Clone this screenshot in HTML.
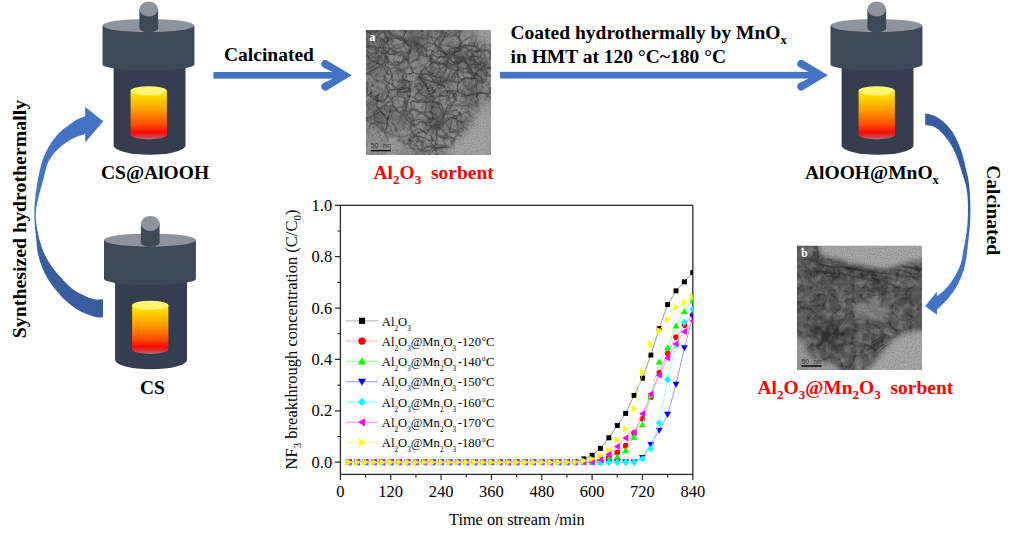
<!DOCTYPE html>
<html><head><meta charset="utf-8"><style>
html,body{margin:0;padding:0;background:#fff;}
svg{display:block;}
text{font-family:"Liberation Serif", serif;}
</style></head><body>
<svg width="1014" height="538" viewBox="0 0 1014 538">
<defs>
<linearGradient id="fire" gradientUnits="userSpaceOnUse" x1="0" y1="88" x2="0" y2="139.6">
<stop offset="0" stop-color="#FFF400"/>
<stop offset="0.12" stop-color="#FFE200"/>
<stop offset="0.45" stop-color="#FF9800"/>
<stop offset="0.72" stop-color="#FF4A00"/>
<stop offset="0.86" stop-color="#F80808"/>
<stop offset="0.93" stop-color="#E03030"/>
<stop offset="1" stop-color="#A87482"/>
</linearGradient>
<g id="reactor">
  <!-- body -->
  <path d="M113.6,64 L185.5,64 L185.5,145.5 A35.95,9.3 0 0 1 113.6,145.5 Z" fill="#343E50"/>
  <!-- inner cylinder -->
  <path d="M130.6,90.8 L166.9,90.8 L166.9,134.5 A18.15,5 0 0 1 130.6,134.5 Z" fill="url(#fire)"/>
  <ellipse cx="148.75" cy="90.8" rx="18.15" ry="4.6" fill="#FFF672"/>
  <!-- lid -->
  <path d="M102.5,25.5 L194.4,25.5 L194.4,64.6 A45.95,5.8 0 0 1 102.5,64.6 Z" fill="#3D4858"/>
  <ellipse cx="148.45" cy="25.5" rx="45.95" ry="6.6" fill="#8E949E"/>
  <!-- knob -->
  <path d="M139.4,9 L158.1,9 L158.1,28.2 A9.35,4 0 0 1 139.4,28.2 Z" fill="#3D4858"/>
  <ellipse cx="148.75" cy="9" rx="9.35" ry="7.4" fill="#8E949E"/>
</g>
</defs>

<use href="#reactor"/>
<use href="#reactor" transform="translate(728,0)"/>
<use href="#reactor" transform="translate(1.5,214.5)"/>
<rect x="213.4" y="71.95" width="121.1" height="6.7" fill="#4472C4"/><path d="M351.80,75.30 L327.07,60.38 A4.0,4.0 0 0 0 323.23,67.39 L332.50,71.95 L332.50,78.65 L323.23,83.21 A4.0,4.0 0 0 0 327.07,90.22 Z" fill="#4472C4"/>
<rect x="500" y="71.85000000000001" width="310.5" height="6.7" fill="#4472C4"/><path d="M827.80,75.20 L803.07,60.28 A4.0,4.0 0 0 0 799.23,67.29 L808.50,71.85 L808.50,78.55 L799.23,83.11 A4.0,4.0 0 0 0 803.07,90.12 Z" fill="#4472C4"/>
<linearGradient id="gL" gradientUnits="userSpaceOnUse" x1="0" y1="200" x2="0" y2="260"><stop offset="0" stop-color="#4472C4"/><stop offset="1" stop-color="#375C9F"/></linearGradient>
<path d="M85.2,107 L103.3,121.3 L85.2,142.6 L85.2,134 C83.68,134.50 79.28,135.57 76.10,137.00 C72.92,138.43 69.10,140.58 66.10,142.60 C63.10,144.62 60.43,146.85 58.10,149.10 C55.77,151.35 53.95,153.43 52.10,156.10 C50.25,158.77 48.43,161.28 47.00,165.10 C45.57,168.92 45.03,173.18 43.50,179.00 C41.97,184.82 39.08,194.23 37.80,200.00 C36.52,205.77 36.02,209.43 35.80,213.60 C35.58,217.77 35.92,220.77 36.50,225.00 C37.08,229.23 38.05,234.35 39.30,239.00 C40.55,243.65 42.05,248.50 44.00,252.90 C45.95,257.30 48.33,261.45 51.00,265.40 C53.67,269.35 57.17,273.35 60.00,276.60 C62.83,279.85 65.00,282.25 68.00,284.90 C71.00,287.55 73.77,290.13 78.00,292.50 C82.23,294.87 89.23,297.97 93.40,299.10 C97.57,300.23 101.40,299.27 103.00,299.30 L103,317.5 C101.40,317.32 97.57,317.65 93.40,316.40 C89.23,315.15 82.65,312.65 78.00,310.00 C73.35,307.35 68.72,303.28 65.50,300.50 C62.28,297.72 61.47,296.60 58.70,293.30 C55.93,290.00 51.70,285.12 48.90,280.70 C46.10,276.28 43.75,271.43 41.90,266.80 C40.05,262.17 38.75,257.53 37.80,252.90 C36.85,248.27 36.70,243.65 36.20,239.00 C35.70,234.35 35.10,229.23 34.80,225.00 C34.50,220.77 34.37,217.77 34.40,213.60 C34.43,209.43 34.40,205.77 35.00,200.00 C35.60,194.23 36.83,185.32 38.00,179.00 C39.17,172.68 40.50,166.92 42.00,162.10 C43.50,157.28 45.15,153.77 47.00,150.10 C48.85,146.43 50.75,143.28 53.10,140.10 C55.45,136.92 58.43,133.52 61.10,131.00 C63.77,128.48 66.45,126.92 69.10,125.00 C71.75,123.08 74.32,120.97 77.00,119.50 C79.68,118.03 83.83,116.75 85.20,116.20 Z" fill="url(#gL)"/>
<linearGradient id="gR" gradientUnits="userSpaceOnUse" x1="0" y1="200" x2="0" y2="250"><stop offset="0" stop-color="#375C9F"/><stop offset="1" stop-color="#4472C4"/></linearGradient>
<path d="M925.2,113.2 C926.82,113.68 931.80,114.62 934.90,116.10 C938.00,117.58 941.08,119.75 943.80,122.10 C946.52,124.45 948.98,127.12 951.20,130.20 C953.42,133.28 955.25,136.63 957.10,140.60 C958.95,144.57 960.82,149.28 962.30,154.00 C963.78,158.72 964.97,164.57 966.00,168.90 C967.03,173.23 967.83,175.67 968.50,180.00 C969.17,184.33 969.68,189.93 970.00,194.90 C970.32,199.87 970.40,204.85 970.40,209.80 C970.40,214.75 970.32,219.65 970.00,224.60 C969.68,229.55 968.95,235.27 968.50,239.50 C968.05,243.73 967.80,246.08 967.30,250.00 C966.80,253.92 966.45,258.67 965.50,263.00 C964.55,267.33 963.33,271.67 961.60,276.00 C959.87,280.33 957.48,285.10 955.10,289.00 C952.72,292.90 950.33,295.93 947.30,299.40 C944.27,302.87 938.63,308.07 936.90,309.80 L936.9,314.8 L925.2,306.2 L936.9,291.4 L936.9,296.2 C937.88,295.43 940.63,293.67 942.80,291.60 C944.97,289.53 947.63,286.83 949.90,283.80 C952.17,280.77 954.55,276.87 956.40,273.40 C958.25,269.93 959.83,266.90 961.00,263.00 C962.17,259.10 962.65,253.92 963.40,250.00 C964.15,246.08 964.83,243.73 965.50,239.50 C966.17,235.27 966.98,229.55 967.40,224.60 C967.82,219.65 968.00,214.75 968.00,209.80 C968.00,204.85 967.82,199.20 967.40,194.90 C966.98,190.60 966.22,187.10 965.50,184.00 C964.78,180.90 964.12,179.57 963.10,176.30 C962.08,173.03 960.88,168.62 959.40,164.40 C957.92,160.18 956.07,154.97 954.20,151.00 C952.33,147.03 950.43,143.82 948.20,140.60 C945.97,137.38 943.27,134.05 940.80,131.70 C938.33,129.35 936.00,127.62 933.40,126.50 C930.80,125.38 926.57,125.25 925.20,125.00 Z" fill="url(#gR)"/>
<text x="101" y="179" font-weight="bold" font-size="19.5">CS@AlOOH</text>
<text x="140" y="394" font-weight="bold" font-size="19.5">CS</text>
<text x="224" y="61.3" font-weight="bold" font-size="19.5">Calcinated</text>
<text x="510.5" y="39.3" font-weight="bold" font-size="19.5">Coated hydrothermally by MnO<tspan font-size="12.5" dy="5">x</tspan></text>
<text x="510.5" y="62.8" font-weight="bold" font-size="19.5">in HMT at 120 °C~180 °C</text>
<text x="805" y="179" font-weight="bold" font-size="19.5">AlOOH@MnO<tspan font-size="12.5" dy="5">x</tspan></text>
<text transform="translate(26.2,338.2) rotate(-90)" font-weight="bold" font-size="19.85">Synthesized hydrothermally</text>
<text transform="translate(987.3,165.2) rotate(90)" font-weight="bold" font-size="19.5">Calcinated</text>
<text x="373.5" y="178.8" font-weight="bold" font-size="19.5" fill="#FF0000">Al<tspan font-size="13" dy="5">2</tspan><tspan dy="-5">O</tspan><tspan font-size="13" dy="5">3</tspan><tspan dy="-5">&#160; sorbent</tspan></text>
<text x="757.5" y="393.9" font-weight="bold" font-size="19.5" fill="#FF0000">Al<tspan font-size="13" dy="5">2</tspan><tspan dy="-5">O</tspan><tspan font-size="13" dy="5">3</tspan><tspan dy="-5">@Mn</tspan><tspan font-size="13" dy="5">2</tspan><tspan dy="-5">O</tspan><tspan font-size="13" dy="5">3</tspan><tspan dy="-5">&#160; sorbent</tspan></text>
<g transform="translate(366,30)"><clipPath id="clipA"><rect width="125" height="125"/></clipPath>
<filter id="tA" x="0" y="0" width="125" height="125" filterUnits="userSpaceOnUse" color-interpolation-filters="sRGB">
  <feTurbulence type="turbulence" baseFrequency="0.045" numOctaves="3" seed="12" result="n"/>
  <feColorMatrix in="n" type="matrix" values="0 0 0 0 0  0 0 0 0 0  0 0 0 0 0  -6 0 0 0 0.9" result="lines"/>
  <feFlood flood-color="#262626"/>
  <feComposite in2="lines" operator="in" result="L1"/>
  <feTurbulence type="fractalNoise" baseFrequency="0.22" numOctaves="2" seed="5" result="n2"/>
  <feColorMatrix in="n2" type="matrix" values="0 0 0 0 0  0 0 0 0 0  0 0 0 0 0  1.3 0 0 0 -0.62" result="lines2"/>
  <feFlood flood-color="#3a3a3a"/>
  <feComposite in2="lines2" operator="in" result="L2"/>
  <feTurbulence type="fractalNoise" baseFrequency="0.05" numOctaves="2" seed="17" result="n3"/>
  <feColorMatrix in="n3" type="matrix" values="0 0 0 0 0  0 0 0 0 0  0 0 0 0 0  1.4 0 0 0 -0.55" result="blob"/>
  <feFlood flood-color="#4a4a4a"/>
  <feComposite in2="blob" operator="in" result="B3"/>
  <feMerge><feMergeNode in="B3"/><feMergeNode in="L2"/><feMergeNode in="L1"/></feMerge>
</filter>
<filter id="gA" x="0" y="0" width="125" height="125" filterUnits="userSpaceOnUse" color-interpolation-filters="sRGB">
  <feTurbulence type="fractalNoise" baseFrequency="0.7" numOctaves="2" seed="21" result="n"/>
  <feColorMatrix in="n" type="matrix" values="0 0 0 0 0  0 0 0 0 0  0 0 0 0 0  0.35 0 0 0 -0.13"/>
</filter>
<filter id="bA" x="-20%" y="-20%" width="140%" height="140%"><feGaussianBlur stdDeviation="4"/></filter>
<filter id="bA2"><feGaussianBlur stdDeviation="0.5"/></filter>
<mask id="mA" maskUnits="userSpaceOnUse" x="0" y="0" width="125" height="125">
  <rect width="125" height="125" fill="#fff"/>
  <g filter="url(#bA)" fill="#000">
    <path d="M130,66 C118,70 110,80 105,90 C99,104 90,112 80,120 L72,130 L130,130 Z"/>
    <path d="M100,-5 L130,-5 L130,18 C118,16 108,8 100,-5 Z"/>
    <path d="M-5,95 C8,96 20,104 30,110 C40,116 50,120 56,130 L-5,130 Z" opacity="0.7"/>
  </g>
</mask><g clip-path="url(#clipA)"><rect width="125" height="125" fill="#a6a6a6"/><rect width="125" height="125" fill="#919191" mask="url(#mA)"/><g mask="url(#mA)"><rect width="125" height="125" filter="url(#tA)"/><g fill="none" stroke="#2e2e2e" stroke-linecap="round" stroke-linejoin="round" filter="url(#bA2)"><path d="M56.2,18.9 L53.8,24.2 L50.9,29.8 L44.3,32.9 L38.2,27.1 L35.1,24.5 L31.4,22.5 L23.5,18.9 L20.8,11.0 L29.8,7.7 L37.8,9.1 L43.2,8.9 L47.3,11.7 L53.9,13.5 L58.9,18.9" stroke="#555" stroke-width="2.6" stroke-opacity="0.25"/><path d="M56.2,18.9 L53.8,24.2 L50.9,29.8 L44.3,32.9 L38.2,27.1 L35.1,24.5 L31.4,22.5 L23.5,18.9 L20.8,11.0 L29.8,7.7 L37.8,9.1 L43.2,8.9 L47.3,11.7 L53.9,13.5 L58.9,18.9" stroke-width="0.62" stroke-opacity="0.51"/><path d="M45.4,18.0 L43.9,21.1 L40.6,22.6 L37.6,23.3 L35.4,21.0 L32.4,22.0 L26.7,21.8 L25.7,18.0 L28.9,15.1 L33.0,14.7 L35.2,14.5 L37.9,11.8 L41.6,12.4 L43.8,15.0 L45.6,18.0" stroke="#555" stroke-width="2.6" stroke-opacity="0.25"/><path d="M45.4,18.0 L43.9,21.1 L40.6,22.6 L37.6,23.3 L35.4,21.0 L32.4,22.0 L26.7,21.8 L25.7,18.0 L28.9,15.1 L33.0,14.7 L35.2,14.5 L37.9,11.8 L41.6,12.4 L43.8,15.0 L45.6,18.0" stroke-width="0.72" stroke-opacity="0.44"/><path d="M86.3,109.4 L84.8,117.1 L73.5,117.6 L68.0,117.9 L63.9,115.7 L55.5,120.0 L43.6,118.3 L45.9,109.4 L51.3,103.6 L57.7,101.1 L62.9,99.5 L69.0,97.1 L75.6,99.0 L79.0,104.0 L87.6,109.4" stroke="#555" stroke-width="2.6" stroke-opacity="0.25"/><path d="M86.3,109.4 L84.8,117.1 L73.5,117.6 L68.0,117.9 L63.9,115.7 L55.5,120.0 L43.6,118.3 L45.9,109.4 L51.3,103.6 L57.7,101.1 L62.9,99.5 L69.0,97.1 L75.6,99.0 L79.0,104.0 L87.6,109.4" stroke-width="1.07" stroke-opacity="0.42"/><path d="M92.5,7.6 L96.1,12.8 L92.3,17.3 L85.9,18.0 L78.8,23.0 L71.9,19.2 L68.3,13.5 L71.3,7.6 L76.2,4.8 L76.0,0.2 L78.7,-8.3 L87.5,-8.8 L95.3,-5.3 L93.4,3.4 L93.0,7.6" stroke="#555" stroke-width="2.6" stroke-opacity="0.25"/><path d="M92.5,7.6 L96.1,12.8 L92.3,17.3 L85.9,18.0 L78.8,23.0 L71.9,19.2 L68.3,13.5 L71.3,7.6 L76.2,4.8 L76.0,0.2 L78.7,-8.3 L87.5,-8.8 L95.3,-5.3 L93.4,3.4 L93.0,7.6" stroke-width="0.87" stroke-opacity="0.52"/><path d="M43.1,51.9 L45.9,56.4 L43.2,60.7 L37.8,63.0 L32.7,59.7 L29.6,57.3 L26.3,55.3 L26.7,51.9 L26.4,48.5 L26.6,43.3 L31.5,39.9 L38.0,40.3 L40.4,46.1 L39.1,50.2 L44.1,51.9" stroke="#555" stroke-width="2.6" stroke-opacity="0.25"/><path d="M43.1,51.9 L45.9,56.4 L43.2,60.7 L37.8,63.0 L32.7,59.7 L29.6,57.3 L26.3,55.3 L26.7,51.9 L26.4,48.5 L26.6,43.3 L31.5,39.9 L38.0,40.3 L40.4,46.1 L39.1,50.2 L44.1,51.9" stroke-width="0.63" stroke-opacity="0.52"/><path d="M111.0,49.0 L111.3,53.7 L107.4,57.1 L102.6,59.7 L98.1,55.1 L97.1,51.8 L90.9,52.6 L86.2,49.0 L85.8,43.5 L91.8,40.8 L97.8,42.1 L101.6,42.3 L106.1,42.4 L108.5,45.5 L111.6,49.0" stroke="#555" stroke-width="2.6" stroke-opacity="0.25"/><path d="M111.0,49.0 L111.3,53.7 L107.4,57.1 L102.6,59.7 L98.1,55.1 L97.1,51.8 L90.9,52.6 L86.2,49.0 L85.8,43.5 L91.8,40.8 L97.8,42.1 L101.6,42.3 L106.1,42.4 L108.5,45.5 L111.6,49.0" stroke-width="0.78" stroke-opacity="0.33"/><path d="M68.9,60.5 L65.3,63.3 L62.3,64.7 L60.0,66.9 L57.0,65.2 L54.8,64.1 L52.7,62.7 L52.3,60.5 L49.0,56.8 L51.7,53.6 L56.7,55.0 L59.4,56.4 L60.7,57.9 L64.5,58.0 L68.0,60.5" stroke="#555" stroke-width="2.6" stroke-opacity="0.25"/><path d="M68.9,60.5 L65.3,63.3 L62.3,64.7 L60.0,66.9 L57.0,65.2 L54.8,64.1 L52.7,62.7 L52.3,60.5 L49.0,56.8 L51.7,53.6 L56.7,55.0 L59.4,56.4 L60.7,57.9 L64.5,58.0 L68.0,60.5" stroke-width="0.99" stroke-opacity="0.43"/><path d="M103.5,41.2 L107.4,45.2 L104.5,48.6 L99.5,49.0 L95.1,49.6 L92.3,46.5 L90.8,43.9 L90.9,41.2 L92.5,39.3 L91.4,35.0 L94.4,30.2 L100.1,31.4 L102.7,35.6 L102.6,39.1 L103.8,41.2" stroke="#555" stroke-width="2.6" stroke-opacity="0.25"/><path d="M103.5,41.2 L107.4,45.2 L104.5,48.6 L99.5,49.0 L95.1,49.6 L92.3,46.5 L90.8,43.9 L90.9,41.2 L92.5,39.3 L91.4,35.0 L94.4,30.2 L100.1,31.4 L102.7,35.6 L102.6,39.1 L103.8,41.2" stroke-width="1.08" stroke-opacity="0.39"/><path d="M37.6,28.4 L36.8,32.0 L33.1,34.2 L29.5,35.3 L26.2,33.5 L24.2,31.8 L18.8,31.9 L14.4,28.4 L17.1,24.2 L22.1,22.6 L26.5,24.5 L28.8,23.8 L33.4,22.3 L37.2,24.5 L37.8,28.4" stroke="#555" stroke-width="2.6" stroke-opacity="0.25"/><path d="M37.6,28.4 L36.8,32.0 L33.1,34.2 L29.5,35.3 L26.2,33.5 L24.2,31.8 L18.8,31.9 L14.4,28.4 L17.1,24.2 L22.1,22.6 L26.5,24.5 L28.8,23.8 L33.4,22.3 L37.2,24.5 L37.8,28.4" stroke-width="0.80" stroke-opacity="0.40"/><path d="M27.7,15.9 L29.9,19.4 L28.3,23.2 L23.7,24.9 L19.7,21.4 L18.5,18.8 L15.5,18.2 L13.1,15.9 L13.4,12.7 L15.4,9.7 L19.1,8.1 L23.4,7.9 L26.4,10.5 L25.4,14.2 L26.7,15.9" stroke="#555" stroke-width="2.6" stroke-opacity="0.25"/><path d="M27.7,15.9 L29.9,19.4 L28.3,23.2 L23.7,24.9 L19.7,21.4 L18.5,18.8 L15.5,18.2 L13.1,15.9 L13.4,12.7 L15.4,9.7 L19.1,8.1 L23.4,7.9 L26.4,10.5 L25.4,14.2 L26.7,15.9" stroke-width="0.73" stroke-opacity="0.37"/><path d="M41.3,73.3 L39.6,77.1 L33.6,76.9 L31.4,78.2 L27.9,81.2 L21.9,81.8 L18.0,78.1 L19.9,73.3 L24.6,71.1 L25.6,68.7 L28.1,66.2 L31.8,66.8 L36.2,66.9 L40.5,69.1 L41.0,73.3" stroke="#555" stroke-width="2.6" stroke-opacity="0.25"/><path d="M41.3,73.3 L39.6,77.1 L33.6,76.9 L31.4,78.2 L27.9,81.2 L21.9,81.8 L18.0,78.1 L19.9,73.3 L24.6,71.1 L25.6,68.7 L28.1,66.2 L31.8,66.8 L36.2,66.9 L40.5,69.1 L41.0,73.3" stroke-width="0.84" stroke-opacity="0.48"/><path d="M79.8,40.7 L77.5,43.9 L75.9,47.3 L73.0,53.2 L66.5,51.8 L60.7,50.0 L53.5,47.2 L55.5,40.7 L61.6,37.6 L64.1,35.0 L67.3,32.4 L73.5,26.4 L81.9,27.9 L80.8,36.2 L79.7,40.7" stroke="#555" stroke-width="2.6" stroke-opacity="0.25"/><path d="M79.8,40.7 L77.5,43.9 L75.9,47.3 L73.0,53.2 L66.5,51.8 L60.7,50.0 L53.5,47.2 L55.5,40.7 L61.6,37.6 L64.1,35.0 L67.3,32.4 L73.5,26.4 L81.9,27.9 L80.8,36.2 L79.7,40.7" stroke-width="0.84" stroke-opacity="0.54"/><path d="M127.7,32.4 L132.3,38.3 L128.7,43.9 L121.6,46.4 L115.8,39.8 L112.4,38.0 L105.7,37.3 L103.7,32.4 L105.5,27.5 L107.4,21.6 L114.4,20.1 L121.1,20.4 L125.9,24.0 L124.8,29.6 L128.0,32.4" stroke="#555" stroke-width="2.6" stroke-opacity="0.25"/><path d="M127.7,32.4 L132.3,38.3 L128.7,43.9 L121.6,46.4 L115.8,39.8 L112.4,38.0 L105.7,37.3 L103.7,32.4 L105.5,27.5 L107.4,21.6 L114.4,20.1 L121.1,20.4 L125.9,24.0 L124.8,29.6 L128.0,32.4" stroke-width="1.08" stroke-opacity="0.40"/><path d="M82.8,123.7 L76.3,129.9 L71.7,135.0 L64.4,136.3 L58.1,134.0 L51.5,133.6 L49.2,128.4 L42.3,123.7 L38.5,114.7 L48.6,110.9 L57.8,112.5 L62.7,117.2 L69.3,114.9 L81.6,115.4 L84.9,123.7" stroke="#555" stroke-width="2.6" stroke-opacity="0.25"/><path d="M82.8,123.7 L76.3,129.9 L71.7,135.0 L64.4,136.3 L58.1,134.0 L51.5,133.6 L49.2,128.4 L42.3,123.7 L38.5,114.7 L48.6,110.9 L57.8,112.5 L62.7,117.2 L69.3,114.9 L81.6,115.4 L84.9,123.7" stroke-width="0.65" stroke-opacity="0.37"/><path d="M17.5,97.4 L15.4,101.6 L10.1,102.8 L7.2,105.4 L2.8,105.1 L0.8,101.8 L-1.5,100.0 L-5.6,97.4 L-6.9,92.6 L-3.1,88.9 L3.4,91.6 L6.1,93.2 L10.1,92.0 L15.1,93.3 L16.1,97.4" stroke="#555" stroke-width="2.6" stroke-opacity="0.25"/><path d="M17.5,97.4 L15.4,101.6 L10.1,102.8 L7.2,105.4 L2.8,105.1 L0.8,101.8 L-1.5,100.0 L-5.6,97.4 L-6.9,92.6 L-3.1,88.9 L3.4,91.6 L6.1,93.2 L10.1,92.0 L15.1,93.3 L16.1,97.4" stroke-width="1.03" stroke-opacity="0.32"/><path d="M116.7,56.7 L115.3,59.7 L113.2,62.3 L109.9,64.3 L105.8,64.2 L99.8,65.2 L95.3,61.8 L99.0,56.7 L102.1,54.4 L103.5,52.2 L105.7,48.9 L111.3,44.1 L115.7,48.5 L116.4,53.3 L116.5,56.7" stroke="#555" stroke-width="2.6" stroke-opacity="0.25"/><path d="M116.7,56.7 L115.3,59.7 L113.2,62.3 L109.9,64.3 L105.8,64.2 L99.8,65.2 L95.3,61.8 L99.0,56.7 L102.1,54.4 L103.5,52.2 L105.7,48.9 L111.3,44.1 L115.7,48.5 L116.4,53.3 L116.5,56.7" stroke-width="0.73" stroke-opacity="0.30"/><path d="M101.0,68.9 L98.9,71.8 L95.6,73.0 L93.3,75.1 L90.0,74.9 L85.2,75.7 L79.6,73.7 L81.8,68.9 L87.0,67.0 L87.8,64.9 L90.0,62.9 L94.1,59.8 L98.6,61.6 L98.9,65.9 L99.7,68.9" stroke="#555" stroke-width="2.6" stroke-opacity="0.25"/><path d="M101.0,68.9 L98.9,71.8 L95.6,73.0 L93.3,75.1 L90.0,74.9 L85.2,75.7 L79.6,73.7 L81.8,68.9 L87.0,67.0 L87.8,64.9 L90.0,62.9 L94.1,59.8 L98.6,61.6 L98.9,65.9 L99.7,68.9" stroke-width="0.66" stroke-opacity="0.32"/><path d="M100.5,31.9 L103.0,36.1 L99.2,38.8 L94.3,38.0 L91.4,36.4 L90.2,34.4 L85.1,35.0 L81.8,31.9 L83.6,28.3 L86.6,25.7 L90.8,25.3 L94.0,26.8 L97.6,26.7 L97.9,29.8 L99.9,31.9" stroke="#555" stroke-width="2.6" stroke-opacity="0.25"/><path d="M100.5,31.9 L103.0,36.1 L99.2,38.8 L94.3,38.0 L91.4,36.4 L90.2,34.4 L85.1,35.0 L81.8,31.9 L83.6,28.3 L86.6,25.7 L90.8,25.3 L94.0,26.8 L97.6,26.7 L97.9,29.8 L99.9,31.9" stroke-width="0.60" stroke-opacity="0.40"/><path d="M68.1,62.8 L65.9,65.5 L63.0,66.7 L60.7,67.9 L57.7,68.9 L52.0,70.5 L47.8,67.5 L51.6,62.8 L53.9,60.6 L55.7,59.0 L57.4,56.0 L62.1,52.7 L65.6,56.3 L66.9,59.8 L69.7,62.8" stroke="#555" stroke-width="2.6" stroke-opacity="0.25"/><path d="M68.1,62.8 L65.9,65.5 L63.0,66.7 L60.7,67.9 L57.7,68.9 L52.0,70.5 L47.8,67.5 L51.6,62.8 L53.9,60.6 L55.7,59.0 L57.4,56.0 L62.1,52.7 L65.6,56.3 L66.9,59.8 L69.7,62.8" stroke-width="0.67" stroke-opacity="0.48"/><path d="M91.4,5.5 L94.1,11.0 L94.9,20.6 L85.5,24.2 L75.7,22.6 L73.0,13.2 L71.2,9.2 L62.4,5.5 L61.4,-2.2 L67.5,-8.0 L75.8,-11.5 L83.9,-7.1 L90.0,-4.6 L92.5,0.6 L89.8,5.5" stroke="#555" stroke-width="2.6" stroke-opacity="0.25"/><path d="M91.4,5.5 L94.1,11.0 L94.9,20.6 L85.5,24.2 L75.7,22.6 L73.0,13.2 L71.2,9.2 L62.4,5.5 L61.4,-2.2 L67.5,-8.0 L75.8,-11.5 L83.9,-7.1 L90.0,-4.6 L92.5,0.6 L89.8,5.5" stroke-width="0.65" stroke-opacity="0.51"/><path d="M81.3,78.5 L78.6,82.0 L76.5,85.4 L74.2,94.4 L65.0,96.1 L61.5,87.2 L58.5,83.0 L60.3,78.5 L60.3,74.6 L60.2,68.5 L66.5,66.2 L73.2,66.3 L82.2,65.5 L84.3,72.7 L80.4,78.5" stroke="#555" stroke-width="2.6" stroke-opacity="0.25"/><path d="M81.3,78.5 L78.6,82.0 L76.5,85.4 L74.2,94.4 L65.0,96.1 L61.5,87.2 L58.5,83.0 L60.3,78.5 L60.3,74.6 L60.2,68.5 L66.5,66.2 L73.2,66.3 L82.2,65.5 L84.3,72.7 L80.4,78.5" stroke-width="0.79" stroke-opacity="0.42"/><path d="M97.9,95.9 L97.3,100.6 L92.0,102.8 L88.8,108.1 L82.1,108.2 L74.4,107.4 L70.3,101.9 L76.5,95.9 L78.1,92.9 L76.8,86.8 L81.8,82.5 L89.9,79.6 L95.4,85.5 L95.2,92.0 L97.5,95.9" stroke="#555" stroke-width="2.6" stroke-opacity="0.25"/><path d="M97.9,95.9 L97.3,100.6 L92.0,102.8 L88.8,108.1 L82.1,108.2 L74.4,107.4 L70.3,101.9 L76.5,95.9 L78.1,92.9 L76.8,86.8 L81.8,82.5 L89.9,79.6 L95.4,85.5 L95.2,92.0 L97.5,95.9" stroke-width="1.05" stroke-opacity="0.35"/><path d="M19.6,57.4 L18.2,63.8 L13.8,69.5 L7.4,76.2 L-1.3,70.1 L-5.6,65.5 L-8.4,61.6 L-9.8,57.4 L-20.3,48.4 L-12.9,41.6 L-1.8,42.7 L5.5,45.2 L9.1,50.1 L16.4,51.7 L20.6,57.4" stroke="#555" stroke-width="2.6" stroke-opacity="0.25"/><path d="M19.6,57.4 L18.2,63.8 L13.8,69.5 L7.4,76.2 L-1.3,70.1 L-5.6,65.5 L-8.4,61.6 L-9.8,57.4 L-20.3,48.4 L-12.9,41.6 L-1.8,42.7 L5.5,45.2 L9.1,50.1 L16.4,51.7 L20.6,57.4" stroke-width="0.61" stroke-opacity="0.30"/><path d="M76.9,56.3 L70.8,60.1 L67.8,63.0 L63.7,64.4 L59.9,62.1 L55.2,62.8 L53.1,59.7 L50.8,56.3 L48.8,51.3 L53.6,48.1 L59.7,49.8 L63.1,50.4 L65.4,52.2 L71.1,52.5 L76.0,56.3" stroke="#555" stroke-width="2.6" stroke-opacity="0.25"/><path d="M76.9,56.3 L70.8,60.1 L67.8,63.0 L63.7,64.4 L59.9,62.1 L55.2,62.8 L53.1,59.7 L50.8,56.3 L48.8,51.3 L53.6,48.1 L59.7,49.8 L63.1,50.4 L65.4,52.2 L71.1,52.5 L76.0,56.3" stroke-width="0.74" stroke-opacity="0.31"/><path d="M24.1,104.3 L22.0,108.0 L19.4,111.3 L15.5,114.6 L10.4,112.9 L6.5,110.8 L6.1,107.0 L6.0,104.3 L1.6,99.9 L3.7,94.9 L9.9,94.0 L14.6,97.3 L16.4,100.5 L18.7,101.9 L24.5,104.3" stroke="#555" stroke-width="2.6" stroke-opacity="0.25"/><path d="M24.1,104.3 L22.0,108.0 L19.4,111.3 L15.5,114.6 L10.4,112.9 L6.5,110.8 L6.1,107.0 L6.0,104.3 L1.6,99.9 L3.7,94.9 L9.9,94.0 L14.6,97.3 L16.4,100.5 L18.7,101.9 L24.5,104.3" stroke-width="0.92" stroke-opacity="0.37"/><path d="M16.5,115.8 L11.3,117.9 L8.4,118.3 L7.7,121.5 L4.2,122.8 L-0.7,123.0 L-1.8,119.0 L0.4,115.8 L0.0,113.4 L2.2,111.8 L4.7,110.6 L7.8,109.6 L11.3,110.5 L16.1,111.9 L16.9,115.8" stroke="#555" stroke-width="2.6" stroke-opacity="0.25"/><path d="M16.5,115.8 L11.3,117.9 L8.4,118.3 L7.7,121.5 L4.2,122.8 L-0.7,123.0 L-1.8,119.0 L0.4,115.8 L0.0,113.4 L2.2,111.8 L4.7,110.6 L7.8,109.6 L11.3,110.5 L16.1,111.9 L16.9,115.8" stroke-width="0.82" stroke-opacity="0.33"/><path d="M39.4,11.3 L36.9,16.5 L31.2,18.8 L26.2,19.1 L22.3,17.6 L18.0,17.6 L15.4,14.8 L15.1,11.3 L12.4,6.7 L15.3,2.2 L21.5,2.0 L25.6,5.7 L27.5,7.7 L32.6,7.9 L40.0,11.3" stroke="#555" stroke-width="2.6" stroke-opacity="0.25"/><path d="M39.4,11.3 L36.9,16.5 L31.2,18.8 L26.2,19.1 L22.3,17.6 L18.0,17.6 L15.4,14.8 L15.1,11.3 L12.4,6.7 L15.3,2.2 L21.5,2.0 L25.6,5.7 L27.5,7.7 L32.6,7.9 L40.0,11.3" stroke-width="0.71" stroke-opacity="0.37"/><path d="M38.2,50.0 L44.4,55.3 L41.9,61.3 L34.4,62.1 L28.8,58.4 L26.7,54.5 L22.9,53.3 L17.9,50.0 L19.4,45.3 L21.9,40.4 L27.6,37.4 L34.0,39.1 L37.4,43.3 L36.4,47.8 L38.5,50.0" stroke="#555" stroke-width="2.6" stroke-opacity="0.25"/><path d="M38.2,50.0 L44.4,55.3 L41.9,61.3 L34.4,62.1 L28.8,58.4 L26.7,54.5 L22.9,53.3 L17.9,50.0 L19.4,45.3 L21.9,40.4 L27.6,37.4 L34.0,39.1 L37.4,43.3 L36.4,47.8 L38.5,50.0" stroke-width="0.86" stroke-opacity="0.47"/><path d="M90.5,95.6 L92.4,100.2 L87.0,102.0 L82.7,102.2 L77.9,106.6 L71.0,106.0 L66.8,101.3 L68.9,95.6 L76.8,93.9 L76.3,90.7 L77.7,83.8 L84.2,83.5 L89.9,86.2 L91.7,91.3 L91.4,95.6" stroke="#555" stroke-width="2.6" stroke-opacity="0.25"/><path d="M90.5,95.6 L92.4,100.2 L87.0,102.0 L82.7,102.2 L77.9,106.6 L71.0,106.0 L66.8,101.3 L68.9,95.6 L76.8,93.9 L76.3,90.7 L77.7,83.8 L84.2,83.5 L89.9,86.2 L91.7,91.3 L91.4,95.6" stroke-width="0.61" stroke-opacity="0.38"/><path d="M70.3,119.9 L69.6,124.7 L68.2,130.9 L62.3,137.0 L54.2,132.4 L50.5,127.3 L49.4,123.1 L48.1,119.9 L41.6,113.5 L44.7,106.4 L53.9,106.3 L60.7,108.6 L64.6,112.6 L67.8,115.8 L70.8,119.9" stroke="#555" stroke-width="2.6" stroke-opacity="0.25"/><path d="M70.3,119.9 L69.6,124.7 L68.2,130.9 L62.3,137.0 L54.2,132.4 L50.5,127.3 L49.4,123.1 L48.1,119.9 L41.6,113.5 L44.7,106.4 L53.9,106.3 L60.7,108.6 L64.6,112.6 L67.8,115.8 L70.8,119.9" stroke-width="0.94" stroke-opacity="0.35"/><path d="M117.5,92.4 L114.1,98.2 L108.2,101.3 L101.8,100.4 L98.5,96.5 L91.4,101.0 L84.6,98.4 L84.8,92.4 L86.9,87.3 L92.7,85.2 L97.2,83.6 L102.6,81.6 L105.0,86.8 L109.7,88.3 L116.0,92.4" stroke="#555" stroke-width="2.6" stroke-opacity="0.25"/><path d="M117.5,92.4 L114.1,98.2 L108.2,101.3 L101.8,100.4 L98.5,96.5 L91.4,101.0 L84.6,98.4 L84.8,92.4 L86.9,87.3 L92.7,85.2 L97.2,83.6 L102.6,81.6 L105.0,86.8 L109.7,88.3 L116.0,92.4" stroke-width="1.09" stroke-opacity="0.34"/><path d="M14.3,7.5 L19.8,12.9 L16.5,18.0 L9.2,17.3 L3.9,17.1 L0.9,13.3 L-0.5,10.3 L-5.5,7.5 L-2.5,3.9 L-0.8,-0.1 L3.1,-4.8 L9.2,-2.4 L11.8,1.9 L12.2,5.2 L12.9,7.5" stroke="#555" stroke-width="2.6" stroke-opacity="0.25"/><path d="M14.3,7.5 L19.8,12.9 L16.5,18.0 L9.2,17.3 L3.9,17.1 L0.9,13.3 L-0.5,10.3 L-5.5,7.5 L-2.5,3.9 L-0.8,-0.1 L3.1,-4.8 L9.2,-2.4 L11.8,1.9 L12.2,5.2 L12.9,7.5" stroke-width="1.08" stroke-opacity="0.33"/><path d="M126.1,25.9 L128.9,29.3 L130.0,35.8 L123.9,38.3 L118.4,33.6 L114.6,32.2 L112.1,29.3 L112.4,25.9 L111.2,22.2 L113.9,19.0 L117.4,14.5 L123.7,14.3 L126.2,20.0 L126.1,23.7 L128.0,25.9" stroke="#555" stroke-width="2.6" stroke-opacity="0.25"/><path d="M126.1,25.9 L128.9,29.3 L130.0,35.8 L123.9,38.3 L118.4,33.6 L114.6,32.2 L112.1,29.3 L112.4,25.9 L111.2,22.2 L113.9,19.0 L117.4,14.5 L123.7,14.3 L126.2,20.0 L126.1,23.7 L128.0,25.9" stroke-width="0.73" stroke-opacity="0.49"/><path d="M121.4,42.4 L120.2,45.6 L120.0,50.5 L115.2,53.0 L110.3,49.7 L108.2,46.6 L106.2,44.8 L102.4,42.4 L101.0,37.9 L105.1,34.8 L110.3,35.2 L114.7,33.8 L118.1,36.4 L118.8,39.8 L120.5,42.4" stroke="#555" stroke-width="2.6" stroke-opacity="0.25"/><path d="M121.4,42.4 L120.2,45.6 L120.0,50.5 L115.2,53.0 L110.3,49.7 L108.2,46.6 L106.2,44.8 L102.4,42.4 L101.0,37.9 L105.1,34.8 L110.3,35.2 L114.7,33.8 L118.1,36.4 L118.8,39.8 L120.5,42.4" stroke-width="0.81" stroke-opacity="0.42"/><path d="M123.7,22.9 L129.1,28.1 L128.4,35.8 L120.4,38.9 L111.3,40.0 L107.1,32.1 L103.6,27.9 L99.2,22.9 L106.6,19.1 L108.1,14.5 L111.5,6.5 L121.0,4.6 L128.4,9.9 L128.9,17.7 L124.6,22.9" stroke="#555" stroke-width="2.6" stroke-opacity="0.25"/><path d="M123.7,22.9 L129.1,28.1 L128.4,35.8 L120.4,38.9 L111.3,40.0 L107.1,32.1 L103.6,27.9 L99.2,22.9 L106.6,19.1 L108.1,14.5 L111.5,6.5 L121.0,4.6 L128.4,9.9 L128.9,17.7 L124.6,22.9" stroke-width="1.09" stroke-opacity="0.37"/><path d="M21.2,12.1 L17.1,14.7 L17.3,19.2 L14.6,27.1 L6.5,26.9 L1.4,21.6 L2.7,15.2 L2.7,12.1 L0.0,7.8 L1.4,2.5 L7.7,1.7 L14.0,-0.8 L19.0,3.1 L21.1,7.8 L20.8,12.1" stroke="#555" stroke-width="2.6" stroke-opacity="0.25"/><path d="M21.2,12.1 L17.1,14.7 L17.3,19.2 L14.6,27.1 L6.5,26.9 L1.4,21.6 L2.7,15.2 L2.7,12.1 L0.0,7.8 L1.4,2.5 L7.7,1.7 L14.0,-0.8 L19.0,3.1 L21.1,7.8 L20.8,12.1" stroke-width="0.68" stroke-opacity="0.52"/><path d="M85.1,40.8 L82.7,45.0 L81.3,50.2 L75.5,52.7 L70.0,49.3 L67.4,45.9 L65.0,43.7 L61.3,40.8 L58.5,35.3 L62.8,30.9 L70.2,33.2 L74.2,33.8 L78.4,34.4 L81.1,37.2 L85.3,40.8" stroke="#555" stroke-width="2.6" stroke-opacity="0.25"/><path d="M85.1,40.8 L82.7,45.0 L81.3,50.2 L75.5,52.7 L70.0,49.3 L67.4,45.9 L65.0,43.7 L61.3,40.8 L58.5,35.3 L62.8,30.9 L70.2,33.2 L74.2,33.8 L78.4,34.4 L81.1,37.2 L85.3,40.8" stroke-width="0.79" stroke-opacity="0.52"/><path d="M72.0,32.5 L74.2,39.8 L69.6,46.5 L59.3,44.1 L52.9,44.2 L46.7,42.3 L45.2,36.9 L41.9,32.5 L42.0,26.8 L44.5,20.4 L50.9,13.4 L59.9,18.9 L60.8,27.7 L65.9,28.6 L70.7,32.5" stroke="#555" stroke-width="2.6" stroke-opacity="0.25"/><path d="M72.0,32.5 L74.2,39.8 L69.6,46.5 L59.3,44.1 L52.9,44.2 L46.7,42.3 L45.2,36.9 L41.9,32.5 L42.0,26.8 L44.5,20.4 L50.9,13.4 L59.9,18.9 L60.8,27.7 L65.9,28.6 L70.7,32.5" stroke-width="1.00" stroke-opacity="0.44"/><path d="M16.4,12.7 L14.4,15.3 L12.8,17.8 L10.8,23.4 L5.0,23.3 L-0.1,21.0 L-3.7,17.3 L-3.4,12.7 L-0.2,9.4 L2.7,7.2 L6.0,5.7 L11.2,0.7 L18.5,1.6 L18.9,8.3 L17.7,12.7" stroke="#555" stroke-width="2.6" stroke-opacity="0.25"/><path d="M16.4,12.7 L14.4,15.3 L12.8,17.8 L10.8,23.4 L5.0,23.3 L-0.1,21.0 L-3.7,17.3 L-3.4,12.7 L-0.2,9.4 L2.7,7.2 L6.0,5.7 L11.2,0.7 L18.5,1.6 L18.9,8.3 L17.7,12.7" stroke-width="0.70" stroke-opacity="0.30"/><path d="M129.6,53.0 L125.2,58.0 L123.1,63.8 L115.4,62.8 L109.7,63.9 L100.4,65.8 L91.2,61.6 L91.9,53.0 L99.1,47.5 L108.6,48.7 L109.9,42.8 L117.2,36.5 L125.7,39.3 L129.8,46.1 L130.7,53.0" stroke="#555" stroke-width="2.6" stroke-opacity="0.25"/><path d="M129.6,53.0 L125.2,58.0 L123.1,63.8 L115.4,62.8 L109.7,63.9 L100.4,65.8 L91.2,61.6 L91.9,53.0 L99.1,47.5 L108.6,48.7 L109.9,42.8 L117.2,36.5 L125.7,39.3 L129.8,46.1 L130.7,53.0" stroke-width="1.00" stroke-opacity="0.54"/><path d="M44.8,15.8 L42.3,22.9 L38.3,30.1 L30.4,36.7 L20.0,32.9 L18.8,21.9 L12.8,20.6 L9.1,15.8 L3.1,7.2 L6.7,-3.0 L20.4,0.3 L27.5,5.5 L34.0,6.1 L38.0,10.5 L43.3,15.8" stroke="#555" stroke-width="2.6" stroke-opacity="0.25"/><path d="M44.8,15.8 L42.3,22.9 L38.3,30.1 L30.4,36.7 L20.0,32.9 L18.8,21.9 L12.8,20.6 L9.1,15.8 L3.1,7.2 L6.7,-3.0 L20.4,0.3 L27.5,5.5 L34.0,6.1 L38.0,10.5 L43.3,15.8" stroke-width="0.79" stroke-opacity="0.33"/><path d="M45.4,90.6 L50.7,98.5 L44.2,104.5 L35.5,107.4 L26.9,105.0 L24.6,97.2 L21.6,94.3 L9.0,90.6 L8.3,81.6 L17.0,76.2 L26.9,76.1 L33.3,81.7 L40.3,80.7 L45.9,84.6 L47.5,90.6" stroke="#555" stroke-width="2.6" stroke-opacity="0.25"/><path d="M45.4,90.6 L50.7,98.5 L44.2,104.5 L35.5,107.4 L26.9,105.0 L24.6,97.2 L21.6,94.3 L9.0,90.6 L8.3,81.6 L17.0,76.2 L26.9,76.1 L33.3,81.7 L40.3,80.7 L45.9,84.6 L47.5,90.6" stroke-width="0.84" stroke-opacity="0.36"/><path d="M111.0,97.5 L107.5,102.3 L101.4,103.7 L98.2,107.4 L93.2,105.7 L90.9,102.3 L84.4,101.9 L82.3,97.5 L79.6,91.1 L85.6,87.2 L93.8,91.6 L96.7,92.8 L102.4,90.2 L107.6,92.6 L113.0,97.5" stroke="#555" stroke-width="2.6" stroke-opacity="0.25"/><path d="M111.0,97.5 L107.5,102.3 L101.4,103.7 L98.2,107.4 L93.2,105.7 L90.9,102.3 L84.4,101.9 L82.3,97.5 L79.6,91.1 L85.6,87.2 L93.8,91.6 L96.7,92.8 L102.4,90.2 L107.6,92.6 L113.0,97.5" stroke-width="0.67" stroke-opacity="0.51"/><path d="M118.0,24.2 L120.5,31.7 L111.8,34.6 L104.6,34.3 L97.6,39.7 L86.8,40.0 L78.1,33.8 L79.2,24.2 L93.8,21.0 L93.3,15.3 L98.1,10.4 L106.9,5.7 L118.9,6.5 L118.4,17.6 L118.3,24.2" stroke="#555" stroke-width="2.6" stroke-opacity="0.25"/><path d="M118.0,24.2 L120.5,31.7 L111.8,34.6 L104.6,34.3 L97.6,39.7 L86.8,40.0 L78.1,33.8 L79.2,24.2 L93.8,21.0 L93.3,15.3 L98.1,10.4 L106.9,5.7 L118.9,6.5 L118.4,17.6 L118.3,24.2" stroke-width="0.85" stroke-opacity="0.38"/><path d="M9.4,22.8 L13.3,26.3 L11.0,29.5 L7.1,31.8 L2.7,29.8 L2.3,25.2 L-1.0,25.0 L-4.5,22.8 L-4.0,19.3 L-2.1,15.8 L2.8,16.1 L6.5,15.9 L9.9,17.2 L9.8,20.7 L10.4,22.8" stroke="#555" stroke-width="2.6" stroke-opacity="0.25"/><path d="M9.4,22.8 L13.3,26.3 L11.0,29.5 L7.1,31.8 L2.7,29.8 L2.3,25.2 L-1.0,25.0 L-4.5,22.8 L-4.0,19.3 L-2.1,15.8 L2.8,16.1 L6.5,15.9 L9.9,17.2 L9.8,20.7 L10.4,22.8" stroke-width="0.73" stroke-opacity="0.55"/><path d="M89.5,45.0 L87.9,51.3 L77.9,51.0 L74.2,52.3 L67.7,61.4 L57.8,60.0 L53.4,52.6 L55.9,45.0 L63.8,41.7 L65.2,37.8 L68.7,32.4 L75.5,33.0 L82.9,33.8 L91.2,37.4 L92.2,45.0" stroke="#555" stroke-width="2.6" stroke-opacity="0.25"/><path d="M89.5,45.0 L87.9,51.3 L77.9,51.0 L74.2,52.3 L67.7,61.4 L57.8,60.0 L53.4,52.6 L55.9,45.0 L63.8,41.7 L65.2,37.8 L68.7,32.4 L75.5,33.0 L82.9,33.8 L91.2,37.4 L92.2,45.0" stroke-width="0.67" stroke-opacity="0.36"/><path d="M89.9,2.8 L87.5,5.2 L84.6,5.9 L82.3,5.3 L80.6,6.5 L76.5,8.1 L74.4,5.7 L74.8,2.8 L76.8,0.8 L79.0,0.1 L80.6,-1.0 L83.0,-2.3 L85.3,-1.0 L88.4,0.1 L90.1,2.8" stroke="#555" stroke-width="2.6" stroke-opacity="0.25"/><path d="M89.9,2.8 L87.5,5.2 L84.6,5.9 L82.3,5.3 L80.6,6.5 L76.5,8.1 L74.4,5.7 L74.8,2.8 L76.8,0.8 L79.0,0.1 L80.6,-1.0 L83.0,-2.3 L85.3,-1.0 L88.4,0.1 L90.1,2.8" stroke-width="0.73" stroke-opacity="0.30"/><path d="M89.5,70.3 L86.4,72.6 L85.5,75.4 L83.3,80.1 L77.0,83.6 L73.3,77.9 L72.8,73.4 L73.7,70.3 L72.8,67.1 L74.1,63.5 L78.1,61.3 L83.3,60.5 L89.1,61.5 L90.8,66.2 L89.2,70.3" stroke="#555" stroke-width="2.6" stroke-opacity="0.25"/><path d="M89.5,70.3 L86.4,72.6 L85.5,75.4 L83.3,80.1 L77.0,83.6 L73.3,77.9 L72.8,73.4 L73.7,70.3 L72.8,67.1 L74.1,63.5 L78.1,61.3 L83.3,60.5 L89.1,61.5 L90.8,66.2 L89.2,70.3" stroke-width="0.85" stroke-opacity="0.46"/><path d="M115.1,21.8 L114.6,27.0 L106.2,26.5 L103.0,26.6 L99.8,28.6 L95.0,28.8 L88.3,27.2 L88.7,21.8 L94.7,19.0 L96.6,16.6 L99.8,14.9 L103.2,16.1 L107.7,15.5 L111.9,17.7 L114.9,21.8" stroke="#555" stroke-width="2.6" stroke-opacity="0.25"/><path d="M115.1,21.8 L114.6,27.0 L106.2,26.5 L103.0,26.6 L99.8,28.6 L95.0,28.8 L88.3,27.2 L88.7,21.8 L94.7,19.0 L96.6,16.6 L99.8,14.9 L103.2,16.1 L107.7,15.5 L111.9,17.7 L114.9,21.8" stroke-width="1.02" stroke-opacity="0.48"/><path d="M42.8,69.2 L40.9,72.3 L40.7,77.0 L37.5,84.6 L30.2,80.3 L26.8,76.0 L26.9,71.8 L25.2,69.2 L20.4,64.1 L24.1,59.6 L30.6,59.5 L36.6,57.0 L40.8,61.3 L42.0,65.7 L43.4,69.2" stroke="#555" stroke-width="2.6" stroke-opacity="0.25"/><path d="M42.8,69.2 L40.9,72.3 L40.7,77.0 L37.5,84.6 L30.2,80.3 L26.8,76.0 L26.9,71.8 L25.2,69.2 L20.4,64.1 L24.1,59.6 L30.6,59.5 L36.6,57.0 L40.8,61.3 L42.0,65.7 L43.4,69.2" stroke-width="0.92" stroke-opacity="0.47"/><path d="M70.1,105.0 L70.5,109.7 L68.9,115.7 L63.1,121.1 L54.3,121.0 L49.8,114.2 L53.4,107.1 L48.0,105.0 L44.7,99.4 L45.2,90.9 L54.4,89.3 L61.4,95.0 L66.2,97.1 L70.6,100.2 L70.5,105.0" stroke="#555" stroke-width="2.6" stroke-opacity="0.25"/><path d="M70.1,105.0 L70.5,109.7 L68.9,115.7 L63.1,121.1 L54.3,121.0 L49.8,114.2 L53.4,107.1 L48.0,105.0 L44.7,99.4 L45.2,90.9 L54.4,89.3 L61.4,95.0 L66.2,97.1 L70.6,100.2 L70.5,105.0" stroke-width="0.92" stroke-opacity="0.47"/><path d="M106.6,8.2 L104.9,13.3 L100.6,17.1 L94.5,16.9 L89.3,18.4 L84.5,16.2 L75.7,14.8 L72.7,8.2 L82.5,4.4 L86.3,2.2 L89.7,-0.6 L95.1,-2.6 L104.0,-4.2 L107.5,2.1 L104.9,8.2" stroke="#555" stroke-width="2.6" stroke-opacity="0.25"/><path d="M106.6,8.2 L104.9,13.3 L100.6,17.1 L94.5,16.9 L89.3,18.4 L84.5,16.2 L75.7,14.8 L72.7,8.2 L82.5,4.4 L86.3,2.2 L89.7,-0.6 L95.1,-2.6 L104.0,-4.2 L107.5,2.1 L104.9,8.2" stroke-width="0.65" stroke-opacity="0.32"/><path d="M107.1,25.6 L104.2,29.4 L99.3,30.4 L96.2,31.1 L92.7,32.8 L86.0,34.6 L80.0,31.5 L84.1,25.6 L88.5,23.1 L90.5,21.3 L92.8,18.9 L97.5,15.2 L101.5,18.5 L104.9,21.5 L107.6,25.6" stroke="#555" stroke-width="2.6" stroke-opacity="0.25"/><path d="M107.1,25.6 L104.2,29.4 L99.3,30.4 L96.2,31.1 L92.7,32.8 L86.0,34.6 L80.0,31.5 L84.1,25.6 L88.5,23.1 L90.5,21.3 L92.8,18.9 L97.5,15.2 L101.5,18.5 L104.9,21.5 L107.6,25.6" stroke-width="0.71" stroke-opacity="0.52"/><path d="M21.0,102.5 L21.0,106.3 L17.4,108.8 L13.0,108.4 L9.4,109.8 L7.3,106.7 L6.0,104.6 L3.9,102.5 L2.9,99.1 L4.4,95.2 L8.7,92.7 L12.6,98.0 L13.9,99.8 L17.7,99.9 L20.2,102.5" stroke="#555" stroke-width="2.6" stroke-opacity="0.25"/><path d="M21.0,102.5 L21.0,106.3 L17.4,108.8 L13.0,108.4 L9.4,109.8 L7.3,106.7 L6.0,104.6 L3.9,102.5 L2.9,99.1 L4.4,95.2 L8.7,92.7 L12.6,98.0 L13.9,99.8 L17.7,99.9 L20.2,102.5" stroke-width="0.65" stroke-opacity="0.46"/><path d="M19.8,98.5 L18.4,101.8 L22.6,111.5 L15.0,116.2 L5.9,113.7 L2.4,106.5 L1.7,101.9 L-0.7,98.5 L-6.3,91.9 L0.4,88.3 L6.6,85.6 L14.8,81.3 L20.0,88.2 L21.7,93.8 L20.2,98.5" stroke="#555" stroke-width="2.6" stroke-opacity="0.25"/><path d="M19.8,98.5 L18.4,101.8 L22.6,111.5 L15.0,116.2 L5.9,113.7 L2.4,106.5 L1.7,101.9 L-0.7,98.5 L-6.3,91.9 L0.4,88.3 L6.6,85.6 L14.8,81.3 L20.0,88.2 L21.7,93.8 L20.2,98.5" stroke-width="0.98" stroke-opacity="0.49"/><path d="M91.7,43.6 L92.8,48.4 L89.4,52.6 L82.7,50.4 L79.4,48.6 L76.6,47.9 L71.0,47.5 L64.7,43.6 L70.0,39.2 L75.7,38.2 L78.7,36.1 L82.8,36.3 L86.6,37.5 L89.3,40.1 L90.5,43.6" stroke="#555" stroke-width="2.6" stroke-opacity="0.25"/><path d="M91.7,43.6 L92.8,48.4 L89.4,52.6 L82.7,50.4 L79.4,48.6 L76.6,47.9 L71.0,47.5 L64.7,43.6 L70.0,39.2 L75.7,38.2 L78.7,36.1 L82.8,36.3 L86.6,37.5 L89.3,40.1 L90.5,43.6" stroke-width="0.72" stroke-opacity="0.38"/><path d="M76.3,20.1 L79.9,26.0 L72.4,27.6 L66.6,24.8 L63.6,26.2 L59.3,26.4 L53.7,24.7 L50.9,20.1 L56.1,16.4 L59.2,13.8 L63.1,12.3 L66.9,14.1 L70.2,15.0 L73.5,16.8 L77.0,20.1" stroke="#555" stroke-width="2.6" stroke-opacity="0.25"/><path d="M76.3,20.1 L79.9,26.0 L72.4,27.6 L66.6,24.8 L63.6,26.2 L59.3,26.4 L53.7,24.7 L50.9,20.1 L56.1,16.4 L59.2,13.8 L63.1,12.3 L66.9,14.1 L70.2,15.0 L73.5,16.8 L77.0,20.1" stroke-width="1.00" stroke-opacity="0.47"/><path d="M77.5,79.0 L74.7,83.9 L71.8,88.7 L65.5,89.7 L60.6,86.1 L57.4,84.4 L53.8,82.5 L46.4,79.0 L44.7,71.9 L54.4,70.5 L60.6,72.0 L64.8,71.0 L69.1,72.2 L75.3,73.9 L76.8,79.0" stroke="#555" stroke-width="2.6" stroke-opacity="0.25"/><path d="M77.5,79.0 L74.7,83.9 L71.8,88.7 L65.5,89.7 L60.6,86.1 L57.4,84.4 L53.8,82.5 L46.4,79.0 L44.7,71.9 L54.4,70.5 L60.6,72.0 L64.8,71.0 L69.1,72.2 L75.3,73.9 L76.8,79.0" stroke-width="0.76" stroke-opacity="0.46"/><path d="M23.0,52.4 L20.2,55.7 L23.1,63.8 L17.6,72.1 L7.7,69.1 L1.3,63.8 L0.8,57.1 L-0.3,52.4 L-2.9,46.4 L2.7,42.5 L8.7,39.7 L17.5,33.0 L24.3,39.8 L25.6,47.1 L22.2,52.4" stroke="#555" stroke-width="2.6" stroke-opacity="0.25"/><path d="M23.0,52.4 L20.2,55.7 L23.1,63.8 L17.6,72.1 L7.7,69.1 L1.3,63.8 L0.8,57.1 L-0.3,52.4 L-2.9,46.4 L2.7,42.5 L8.7,39.7 L17.5,33.0 L24.3,39.8 L25.6,47.1 L22.2,52.4" stroke-width="0.99" stroke-opacity="0.54"/><path d="M75.3,12.6 L72.8,15.8 L73.2,21.3 L68.0,23.8 L61.4,25.5 L55.1,22.9 L51.0,18.2 L50.1,12.6 L53.6,8.1 L61.4,8.9 L62.0,2.1 L68.8,-1.5 L75.8,1.2 L79.8,6.7 L74.7,12.6" stroke="#555" stroke-width="2.6" stroke-opacity="0.25"/><path d="M75.3,12.6 L72.8,15.8 L73.2,21.3 L68.0,23.8 L61.4,25.5 L55.1,22.9 L51.0,18.2 L50.1,12.6 L53.6,8.1 L61.4,8.9 L62.0,2.1 L68.8,-1.5 L75.8,1.2 L79.8,6.7 L74.7,12.6" stroke-width="0.61" stroke-opacity="0.40"/><path d="M68.2,87.3 L65.0,92.3 L57.4,92.3 L53.9,92.1 L50.4,95.0 L45.5,94.6 L42.4,91.3 L39.0,87.3 L42.0,83.0 L45.6,80.0 L50.3,79.2 L53.9,82.3 L57.6,82.1 L65.8,82.0 L66.9,87.3" stroke="#555" stroke-width="2.6" stroke-opacity="0.25"/><path d="M68.2,87.3 L65.0,92.3 L57.4,92.3 L53.9,92.1 L50.4,95.0 L45.5,94.6 L42.4,91.3 L39.0,87.3 L42.0,83.0 L45.6,80.0 L50.3,79.2 L53.9,82.3 L57.6,82.1 L65.8,82.0 L66.9,87.3" stroke-width="0.92" stroke-opacity="0.50"/><path d="M102.0,58.5 L103.1,56.2 L104.6,54.3 L105.8,52.1 L106.8,49.8 L107.5,47.4 L107.9,44.9 L107.9,42.4" stroke-width="0.77" stroke-opacity="0.34"/><path d="M0.3,90.2 L-2.1,90.7 L-4.6,90.9 L-7.1,90.8 L-9.6,91.0 L-12.0,90.4 L-14.3,89.2 L-16.7,88.8 L-19.0,87.8 L-21.0,86.3" stroke-width="0.62" stroke-opacity="0.33"/><path d="M98.0,17.6 L100.3,18.5 L102.5,19.7 L104.9,20.5 L107.4,20.6 L109.8,20.1 L112.1,19.1" stroke-width="0.82" stroke-opacity="0.50"/><path d="M97.0,43.3 L97.6,45.7 L98.1,48.2 L98.0,50.7 L97.6,53.2 L96.6,55.4 L95.1,57.5 L93.2,59.1 L91.7,61.1 L89.9,62.9 L88.1,64.6 L86.0,66.0 L84.0,67.5 L81.7,68.4" stroke-width="0.95" stroke-opacity="0.30"/><path d="M69.4,33.1 L71.7,33.9 L74.2,34.1 L76.7,34.4 L79.2,34.6 L81.7,34.9 L84.0,35.8 L86.5,35.8 L88.9,36.5 L91.4,37.1 L93.8,37.8" stroke-width="0.57" stroke-opacity="0.32"/><path d="M83.2,105.1 L85.3,106.4 L87.2,108.0 L89.6,108.8 L91.9,109.8 L94.0,111.1 L95.7,112.9 L97.6,114.6 L98.8,116.8 L100.0,119.0 L101.2,121.1 L101.8,123.6 L103.1,125.7 L104.1,128.0 L104.9,130.3 L106.0,132.6" stroke-width="0.71" stroke-opacity="0.36"/><path d="M107.7,45.8 L108.4,48.2 L109.3,50.5 L110.0,52.9 L110.2,55.4 L110.8,57.8 L110.8,60.3 L110.9,62.8 L111.1,65.3 L111.6,67.8 L112.2,70.2 L111.9,72.7 L111.3,75.1 L110.3,77.4" stroke-width="0.76" stroke-opacity="0.39"/><path d="M41.4,39.6 L41.1,37.2 L41.2,34.7 L42.0,32.3 L42.9,29.9 L42.9,27.4 L42.7,24.9 L41.6,22.7 L40.1,20.7 L39.1,18.4 L38.4,16.0 L38.0,13.6 L38.0,11.1" stroke-width="0.79" stroke-opacity="0.34"/><path d="M113.7,76.5 L111.9,74.8 L109.7,73.5 L107.7,72.0 L105.7,70.6 L103.9,68.8 L101.8,67.5 L99.4,66.8 L96.9,66.9 L94.4,66.4 L92.2,65.3 L90.1,64.0 L87.8,62.8" stroke-width="0.81" stroke-opacity="0.44"/><path d="M102.8,98.3 L100.8,99.8 L98.8,101.3 L96.7,102.7 L94.3,103.3 L92.2,104.7 L90.0,105.9 L88.4,107.8 L87.3,110.1 L85.8,112.0" stroke-width="0.63" stroke-opacity="0.42"/><path d="M71.9,114.8 L70.3,112.9 L69.5,110.5 L68.6,108.2 L67.5,105.9 L65.9,104.0 L64.5,102.0 L62.7,100.3 L60.5,99.0 L58.1,98.6" stroke-width="0.51" stroke-opacity="0.38"/><path d="M0.6,85.5 L1.8,83.3 L2.2,80.8 L2.9,78.4 L3.2,75.9 L4.0,73.5 L4.1,71.0" stroke-width="0.98" stroke-opacity="0.29"/><path d="M6.3,96.8 L8.3,98.2 L10.1,99.9 L12.0,101.6 L13.2,103.8 L14.8,105.7 L15.7,108.0 L16.3,110.4 L17.6,112.6 L19.6,114.1 L21.4,115.8 L22.8,117.9 L24.7,119.5 L26.8,120.9" stroke-width="0.93" stroke-opacity="0.46"/><path d="M91.2,20.7 L89.4,22.5 L87.7,24.3 L85.8,25.9 L84.3,28.0 L82.5,29.7 L80.8,31.5" stroke-width="0.74" stroke-opacity="0.51"/><path d="M80.6,78.7 L83.1,78.3 L85.6,78.1 L88.0,77.5 L90.1,76.2 L92.6,75.6 L95.1,75.4 L97.5,75.8 L100.0,75.9 L102.5,76.2 L104.8,77.2 L106.7,78.8 L108.6,80.5 L110.6,81.9" stroke-width="0.69" stroke-opacity="0.38"/><path d="M53.6,111.0 L55.8,110.0 L57.9,108.6 L59.4,106.6 L60.5,104.3 L61.5,102.0 L62.7,99.8 L64.3,97.9 L66.3,96.5 L67.8,94.5 L69.7,92.9 L72.0,91.7 L74.4,91.2" stroke-width="0.84" stroke-opacity="0.36"/><path d="M71.5,34.2 L73.5,32.7 L75.0,30.7 L76.5,28.7 L78.4,27.1 L80.0,25.2 L81.8,23.5 L84.1,22.5 L86.2,21.0 L88.3,19.8 L90.6,18.8 L92.9,17.7 L94.9,16.2" stroke-width="0.90" stroke-opacity="0.51"/><path d="M31.8,93.9 L33.1,91.8 L34.0,89.4 L35.0,87.1 L36.6,85.2 L38.7,83.8 L40.7,82.4" stroke-width="0.73" stroke-opacity="0.49"/><path d="M59.6,73.7 L58.6,71.4 L57.7,69.0 L56.7,66.7 L55.7,64.5 L54.1,62.5 L52.1,61.1 L50.6,59.1" stroke-width="0.60" stroke-opacity="0.31"/><path d="M46.8,13.3 L44.6,12.1 L42.4,10.8 L39.9,10.4 L37.5,10.7 L35.0,10.3 L32.8,9.2 L30.5,8.1" stroke-width="0.89" stroke-opacity="0.44"/><path d="M70.9,32.7 L71.7,30.3 L73.2,28.4 L74.4,26.1 L74.8,23.7 L74.7,21.2 L74.0,18.8 L72.7,16.7 L70.7,15.1 L68.9,13.4 L67.5,11.3 L66.1,9.2 L65.4,6.8 L65.3,4.4 L64.6,2.0 L64.0,-0.5" stroke-width="0.71" stroke-opacity="0.48"/><path d="M49.7,15.0 L48.8,12.7 L48.2,10.2 L47.4,7.9 L46.5,5.5 L45.1,3.5 L44.4,1.0 L44.6,-1.4 L44.3,-3.9 L43.2,-6.2 L41.8,-8.2 L40.1,-10.1" stroke-width="0.63" stroke-opacity="0.54"/><path d="M112.8,113.1 L112.5,110.6 L112.9,108.1 L112.6,105.7 L111.7,103.3 L111.2,100.9 L111.5,98.4 L112.1,96.0 L112.4,93.5 L112.8,91.0 L113.6,88.7 L113.8,86.2 L113.6,83.7 L113.1,81.2" stroke-width="0.52" stroke-opacity="0.50"/><path d="M15.5,60.2 L13.7,58.4 L12.2,56.4 L10.3,54.8 L8.0,53.8 L6.1,52.2 L3.9,51.1 L2.1,49.3" stroke-width="0.62" stroke-opacity="0.30"/><path d="M108.3,111.1 L110.8,110.6 L113.3,110.3 L115.7,109.9 L118.2,109.2 L120.7,109.2 L123.2,109.0" stroke-width="0.72" stroke-opacity="0.29"/><path d="M78.5,17.8 L76.0,17.6 L73.7,16.8 L71.2,16.3 L68.7,16.0 L66.3,16.3 L63.9,17.0 L61.4,17.1 L58.9,17.5 L56.6,18.5 L54.3,19.4 L52.1,20.7 L49.7,21.3 L47.5,22.5" stroke-width="0.53" stroke-opacity="0.32"/><path d="M122.3,7.1 L119.9,7.8 L117.7,8.9 L115.7,10.5 L113.9,12.2 L111.6,13.2 L109.2,13.4 L106.7,12.9 L104.2,13.0" stroke-width="0.83" stroke-opacity="0.52"/><path d="M36.2,112.0 L38.4,110.9 L40.8,110.2 L43.2,109.3 L45.2,107.9 L46.6,105.8 L48.4,104.1 L50.3,102.5 L51.8,100.5" stroke-width="0.86" stroke-opacity="0.27"/><path d="M54.4,114.0 L55.0,116.4 L55.3,118.9 L56.0,121.3 L57.5,123.3 L59.4,124.9 L61.3,126.6 L63.1,128.3" stroke-width="0.79" stroke-opacity="0.32"/><path d="M34.2,25.8 L31.9,25.0 L29.4,25.0 L26.9,24.5 L24.4,24.3 L22.0,23.6 L19.5,23.7 L17.0,23.3 L14.5,23.2 L12.1,22.5 L10.0,21.2 L7.9,19.9 L5.4,19.4 L3.2,18.2 L1.0,17.0" stroke-width="0.85" stroke-opacity="0.43"/><path d="M109.0,33.3 L110.5,35.3 L111.8,37.4 L113.8,38.9 L115.8,40.5 L117.8,42.0 L119.8,43.5 L122.1,44.4 L124.3,45.6 L126.1,47.4" stroke-width="0.92" stroke-opacity="0.31"/><path d="M108.2,40.1 L110.2,41.6 L111.6,43.7 L113.0,45.7 L114.5,47.8 L115.8,49.9 L117.1,52.0 L119.1,53.6 L120.4,55.7 L122.1,57.5 L124.2,58.9 L126.6,59.7 L129.1,60.0 L131.4,60.9" stroke-width="0.69" stroke-opacity="0.46"/><path d="M3.8,12.1 L1.8,10.5 L-0.1,8.9 L-1.8,7.0 L-3.9,5.7 L-5.6,3.9 L-7.0,1.8" stroke-width="0.60" stroke-opacity="0.46"/><path d="M5.6,15.4 L7.6,17.0 L9.8,18.1 L12.0,19.3 L13.8,21.0 L16.0,22.3 L18.1,23.6 L19.9,25.3 L22.1,26.5" stroke-width="0.75" stroke-opacity="0.40"/><path d="M103.3,117.2 L100.8,117.0 L98.5,116.0 L96.4,114.6 L94.2,113.5 L91.8,112.7 L89.3,112.3 L86.8,112.0 L84.6,110.8 L82.7,109.2 L81.3,107.2 L80.3,104.8 L80.0,102.4 L78.9,100.1 L77.9,97.8" stroke-width="0.71" stroke-opacity="0.37"/><path d="M119.7,116.8 L118.0,118.6 L117.0,120.9 L116.0,123.2 L115.1,125.5 L114.9,128.0 L115.4,130.5 L115.1,132.9 L114.2,135.3 L112.8,137.3 L111.1,139.2 L109.1,140.6 L106.7,141.5" stroke-width="0.71" stroke-opacity="0.32"/><path d="M110.6,4.3 L110.1,6.8 L109.0,9.0 L107.7,11.1 L106.7,13.4 L105.8,15.7 L104.9,18.1 L103.4,20.0 L102.1,22.2 L101.2,24.5 L100.0,26.7 L99.5,29.2 L98.8,31.6" stroke-width="0.63" stroke-opacity="0.44"/><path d="M119.5,64.2 L121.5,65.8 L123.8,66.8 L126.2,67.4 L128.6,67.9 L131.1,68.1 L133.6,67.7 L135.9,66.7 L138.2,65.8 L140.7,65.4 L143.2,65.3 L145.7,65.2" stroke-width="0.73" stroke-opacity="0.33"/><path d="M81.3,25.1 L79.4,23.6 L77.2,22.2 L74.9,21.3 L72.4,20.9 L70.0,20.4 L67.5,20.2 L65.0,19.7 L62.6,20.2 L60.2,20.9 L57.7,20.9 L55.2,21.5" stroke-width="0.73" stroke-opacity="0.46"/><path d="M69.6,61.4 L69.3,58.9 L68.4,56.6 L68.0,54.2 L67.5,51.7 L66.4,49.5 L65.0,47.4 L63.6,45.4 L62.5,43.1" stroke-width="0.99" stroke-opacity="0.34"/><path d="M13.7,28.1 L12.6,30.4 L11.2,32.5 L9.7,34.5 L7.8,36.1 L5.5,37.2 L3.3,38.2 L0.9,38.9" stroke-width="0.87" stroke-opacity="0.54"/><path d="M92.9,95.0 L94.7,93.2 L96.8,91.9 L98.4,90.0 L100.3,88.4 L102.3,86.9 L104.3,85.4 L106.7,84.6 L109.1,83.9 L111.5,83.1 L114.0,82.8 L116.4,83.2 L118.9,83.7 L121.4,84.0" stroke-width="0.89" stroke-opacity="0.39"/><path d="M56.5,57.2 L54.1,56.6 L51.6,56.2 L49.3,55.4 L47.2,54.0 L45.1,52.6 L43.0,51.3 L40.6,50.5 L38.2,50.0 L35.7,50.2" stroke-width="0.65" stroke-opacity="0.47"/><path d="M71.9,72.7 L73.8,71.0 L76.0,70.0 L78.1,68.5 L80.0,66.9 L82.3,65.9 L84.1,64.3 L85.4,62.1 L86.7,60.0 L88.0,57.8" stroke-width="0.96" stroke-opacity="0.28"/><path d="M115.0,96.7 L112.6,96.1 L110.1,95.7 L107.6,95.5 L105.2,95.2 L102.7,95.2 L100.3,94.3 L98.1,93.2 L95.8,92.1 L93.4,91.6 L90.9,91.3 L88.4,91.2" stroke-width="1.00" stroke-opacity="0.41"/><path d="M70.2,71.8 L67.8,72.5 L65.3,72.3 L62.8,72.5 L60.3,72.5 L57.8,72.1 L55.3,72.1 L52.9,72.6 L50.4,72.1 L48.1,71.2 L45.8,70.2" stroke-width="0.98" stroke-opacity="0.51"/><path d="M13.8,111.8 L15.6,110.1 L17.0,108.0 L18.0,105.7 L19.1,103.4 L20.1,101.2 L20.7,98.7 L20.7,96.2 L20.9,93.7 L21.3,91.3 L21.4,88.8 L22.4,86.5 L23.6,84.3 L24.0,81.8 L24.3,79.3 L25.1,77.0" stroke-width="0.91" stroke-opacity="0.46"/><path d="M38.3,86.3 L36.4,84.8 L34.1,83.7 L31.9,82.6 L29.6,81.5 L27.3,80.7 L25.0,79.7 L22.7,78.6 L21.0,76.8 L19.3,75.0 L17.5,73.2 L15.4,72.0 L13.0,71.3 L10.7,70.2 L8.3,69.7" stroke-width="0.65" stroke-opacity="0.25"/><path d="M12.5,21.3 L12.6,18.8 L11.9,16.4 L11.7,13.9 L11.1,11.5 L10.9,9.0 L10.5,6.5 L9.5,4.3 L8.1,2.2 L6.2,0.5 L4.9,-1.6 L3.7,-3.8 L2.2,-5.8" stroke-width="0.91" stroke-opacity="0.41"/><path d="M56.2,48.2 L58.6,47.5 L61.1,47.0 L63.4,46.0 L65.3,44.4 L67.6,43.4 L70.0,43.0 L72.4,42.3 L74.9,42.3 L77.4,42.8 L79.9,43.0 L82.4,43.4" stroke-width="0.95" stroke-opacity="0.27"/></g></g><rect width="125" height="125" filter="url(#gA)"/></g><text x="3.4" y="11.4" font-size="11.5" font-weight="bold" style='font-family:"Liberation Serif", serif' fill="#fff">a</text><rect x="4.7" y="119.9" width="20.3" height="1.4" fill="#111"/><text x="4.7" y="118.4" font-size="6.8" style='font-family:"Liberation Sans", sans-serif' fill="#333">50</text><text x="17" y="118.4" font-size="6.5" style='font-family:"Liberation Sans", sans-serif' fill="#333" textLength="8" lengthAdjust="spacingAndGlyphs">nm</text></g>
<g transform="translate(797,245.4)"><clipPath id="clipB"><rect width="125" height="124.5"/></clipPath>
<filter id="tB" x="0" y="0" width="125" height="125" filterUnits="userSpaceOnUse" color-interpolation-filters="sRGB">
  <feTurbulence type="turbulence" baseFrequency="0.07" numOctaves="3" seed="31" result="n"/>
  <feColorMatrix in="n" type="matrix" values="0 0 0 0 0  0 0 0 0 0  0 0 0 0 0  -4 0 0 0 0.9" result="lines"/>
  <feFlood flood-color="#2a2a2a"/>
  <feComposite in2="lines" operator="in" result="L1"/>
  <feTurbulence type="fractalNoise" baseFrequency="0.12" numOctaves="2" seed="8" result="n2"/>
  <feColorMatrix in="n2" type="matrix" values="0 0 0 0 0  0 0 0 0 0  0 0 0 0 0  1.3 0 0 0 -0.5" result="blob"/>
  <feFlood flood-color="#a0a0a0"/>
  <feComposite in2="blob" operator="in" result="W"/>
  <feMerge><feMergeNode in="L1"/><feMergeNode in="W"/></feMerge>
</filter>
<filter id="gB" x="0" y="0" width="125" height="125" filterUnits="userSpaceOnUse" color-interpolation-filters="sRGB">
  <feTurbulence type="fractalNoise" baseFrequency="0.7" numOctaves="2" seed="41" result="n"/>
  <feColorMatrix in="n" type="matrix" values="0 0 0 0 0  0 0 0 0 0  0 0 0 0 0  0.35 0 0 0 -0.13"/>
</filter>
<filter id="bB" x="-20%" y="-20%" width="140%" height="140%"><feGaussianBlur stdDeviation="2.5"/></filter>
<filter id="bB3" x="-50%" y="-50%" width="200%" height="200%"><feGaussianBlur stdDeviation="6"/></filter>
<filter id="bB2"><feGaussianBlur stdDeviation="0.6"/></filter>
<mask id="mB" maskUnits="userSpaceOnUse" x="0" y="0" width="125" height="125">
  <rect width="125" height="125" fill="#fff"/>
  <g filter="url(#bB)" fill="#000">
    <path d="M22,-8 L130,-8 L130,14 C124,14 118,15 108,18 C102,20 96,23 88,24 C82,24 76,22 65,20 C55,18 45,15 35,13 C30,12 26,10 22,6 Z"/>
    <path d="M130,84 C120,85 108,88 100,91 C94,95 89,101 85,107 C80,114 74,120 66,130 L130,130 Z"/>
    <path d="M-8,88 C2,90 8,96 10,104 C14,112 18,114 28,116 C36,118 42,122 46,130 L-8,130 Z" opacity="0.8"/>
    <ellipse cx="75" cy="65" rx="17" ry="10" opacity="0.45"/>
  </g>
</mask><g clip-path="url(#clipB)"><rect width="125" height="125" fill="#a8a8a8"/><g mask="url(#mB)"><rect width="125" height="125" fill="#5a5a5a"/><g filter="url(#bB3)" fill="#303030"><ellipse cx="32" cy="88" rx="20" ry="16" opacity="0.95"/><ellipse cx="55" cy="24" rx="55" ry="6" opacity="0.8"/><ellipse cx="82" cy="38" rx="14" ry="7" opacity="0.6"/><ellipse cx="25" cy="50" rx="12" ry="10" opacity="0.5"/><ellipse cx="110" cy="55" rx="10" ry="16" opacity="0.45"/><ellipse cx="72" cy="92" rx="12" ry="12" opacity="0.45"/></g><rect width="125" height="125" filter="url(#tB)"/><g fill="none" stroke="#222" stroke-linecap="round" filter="url(#bB2)"><path d="M49.8,22.1 L52.7,22.7 L55.6,23.3 L58.6,23.8 L61.6,24.3 L64.5,24.8 L67.4,25.5 L70.4,26.0 L73.4,26.4 L76.3,26.7 L79.3,27.1 L82.3,27.6 L85.3,27.9" stroke-width="1.39" stroke-opacity="0.39"/><path d="M71.9,23.1 L74.9,23.4 L77.9,23.6 L80.9,23.6 L83.9,23.6 L86.9,23.4 L89.9,23.1" stroke-width="0.95" stroke-opacity="0.36"/><path d="M57.1,23.5 L60.0,24.2 L63.0,24.8 L65.9,25.6 L68.7,26.5 L71.5,27.6 L74.3,28.7 L77.1,29.8 L79.9,30.7 L82.8,31.6" stroke-width="0.66" stroke-opacity="0.34"/><path d="M44.0,27.2 L46.9,28.2 L49.8,29.0 L52.7,29.7 L55.6,30.6 L58.4,31.4 L61.3,32.4 L64.1,33.4 L67.0,34.2" stroke-width="1.10" stroke-opacity="0.34"/><path d="M29.7,13.6 L32.5,14.5 L35.4,15.3 L38.3,16.1 L41.3,16.7 L44.2,17.1 L47.2,17.7 L50.1,18.1" stroke-width="1.05" stroke-opacity="0.26"/><path d="M21.0,25.2 L23.9,25.7 L26.9,26.2 L29.9,26.7 L32.8,27.0 L35.8,27.5 L38.7,28.1" stroke-width="0.84" stroke-opacity="0.37"/><path d="M23.2,19.1 L26.1,19.6 L29.0,20.3 L32.0,21.0 L34.9,21.5 L37.9,22.1 L40.8,22.7 L43.8,23.1 L46.8,23.5 L49.8,23.7 L52.7,23.9 L55.7,24.0 L58.7,24.2" stroke-width="0.90" stroke-opacity="0.26"/><path d="M105.5,20.7 L108.4,21.4 L111.4,22.0 L114.3,22.7 L117.2,23.5 L120.1,24.3 L123.0,24.9 L125.9,25.6 L128.8,26.5 L131.7,27.3" stroke-width="1.36" stroke-opacity="0.37"/><path d="M66.4,19.6 L69.3,20.1 L72.3,20.5 L75.3,20.9 L78.3,21.3 L81.2,21.8" stroke-width="1.08" stroke-opacity="0.22"/><path d="M19.3,25.0 L22.3,25.4 L25.2,26.0 L28.1,26.6 L31.1,27.2 L34.0,27.9" stroke-width="0.76" stroke-opacity="0.15"/><path d="M29.6,20.0 L32.6,20.4 L35.6,20.8 L38.6,21.0 L41.5,21.2 L44.5,21.6" stroke-width="1.38" stroke-opacity="0.31"/><path d="M76.0,22.5 L79.0,22.7 L82.0,23.0 L85.0,23.3 L87.9,23.9 L90.9,24.2 L93.9,24.6" stroke-width="0.99" stroke-opacity="0.33"/><path d="M35.1,30.0 L38.0,30.7 L40.9,31.5 L43.7,32.5 L46.6,33.5 L49.3,34.6" stroke-width="1.33" stroke-opacity="0.24"/><path d="M75.4,28.2 L78.3,28.9 L81.2,29.6 L84.1,30.4 L87.0,31.3 L89.9,32.1 L92.7,32.9 L95.6,33.8 L98.5,34.5 L101.4,35.3 L104.3,36.2 L107.1,37.3 L109.8,38.5" stroke-width="0.91" stroke-opacity="0.33"/><path d="M63.9,19.9 L66.9,20.4 L69.9,20.6 L72.8,20.9 L75.8,21.2 L78.8,21.4 L81.8,21.7 L84.8,22.0 L87.8,22.3 L90.7,22.8 L93.7,23.2 L96.7,23.4" stroke-width="0.84" stroke-opacity="0.32"/><path d="M22.3,15.1 L25.2,15.7 L28.1,16.5 L31.0,17.3 L33.9,18.1 L36.8,18.8 L39.7,19.5 L42.6,20.2 L45.5,21.2 L48.3,22.2 L51.1,23.2 L53.9,24.3 L56.8,25.2" stroke-width="0.71" stroke-opacity="0.27"/><path d="M92.1,27.3 L95.0,28.1 L97.9,28.7 L100.8,29.4 L103.8,29.9 L106.7,30.4 L109.7,30.8 L112.7,31.3 L115.6,31.8 L118.6,32.2 L121.6,32.7" stroke-width="1.39" stroke-opacity="0.26"/><path d="M8.2,12.6 L11.2,13.0 L14.2,13.4 L17.1,13.7 L20.1,14.2 L23.1,14.5 L26.1,14.7 L29.1,14.8 L32.1,14.8 L35.1,14.9 L38.1,14.8 L41.1,14.7 L44.1,14.4" stroke-width="1.10" stroke-opacity="0.26"/><path d="M69.3,23.8 L72.1,24.7 L75.0,25.5 L77.9,26.4 L80.8,27.1 L83.8,27.6 L86.7,28.1 L89.7,28.7 L92.6,29.2 L95.6,29.6 L98.6,29.9 L101.6,30.3" stroke-width="1.02" stroke-opacity="0.30"/><path d="M83.2,19.1 L86.1,19.8 L89.0,20.6 L91.8,21.5 L94.7,22.3 L97.6,23.1 L100.5,23.9 L103.4,24.9 L106.2,25.8 L109.1,26.7 L111.9,27.8 L114.6,28.9" stroke-width="1.36" stroke-opacity="0.27"/><path d="M71.6,15.7 L74.5,16.5 L77.4,17.4 L80.3,18.2 L83.1,19.2 L85.9,20.3 L88.6,21.5 L91.3,22.8 L94.0,24.2 L96.7,25.5 L99.3,27.0 L101.9,28.5" stroke-width="0.88" stroke-opacity="0.17"/><path d="M48.5,21.9 L51.5,22.3 L54.4,22.9 L57.4,23.2 L60.4,23.7 L63.3,24.1 L66.3,24.4 L69.3,24.8 L72.3,25.1 L75.3,25.2 L78.3,25.4 L81.3,25.6" stroke-width="1.27" stroke-opacity="0.32"/><path d="M104.0,20.9 L107.0,21.1 L110.0,21.4 L113.0,21.6 L116.0,21.8 L119.0,22.1 L122.0,22.5 L124.9,22.9 L127.9,23.4 L130.9,23.8 L133.8,24.2 L136.8,24.6 L139.7,25.3" stroke-width="0.77" stroke-opacity="0.36"/><path d="M106.5,21.4 L109.5,21.9 L112.5,22.3 L115.4,22.8 L118.4,23.1 L121.4,23.5 L124.3,24.0 L127.3,24.5 L130.3,25.0 L133.2,25.6" stroke-width="0.99" stroke-opacity="0.32"/><path d="M7.2,21.7 L10.1,22.7 L12.9,23.6 L15.8,24.6 L18.7,25.3 L21.6,26.1 L24.4,27.0 L27.3,28.0 L30.1,29.0" stroke-width="0.85" stroke-opacity="0.20"/><path d="M68.0,28.7 L70.9,29.2 L73.9,29.7 L76.8,30.1 L79.8,30.6 L82.8,31.0 L85.8,31.3" stroke-width="1.10" stroke-opacity="0.18"/><path d="M80.4,14.2 L83.4,14.6 L86.4,14.9 L89.3,15.2 L92.3,15.5 L95.3,15.8 L98.3,16.0 L101.3,16.2 L104.3,16.2 L107.3,16.3" stroke-width="1.11" stroke-opacity="0.28"/><path d="M93.6,23.0 L96.6,23.5 L99.5,24.2 L102.4,24.9 L105.3,25.7 L108.3,26.3 L111.2,27.1 L114.1,27.8 L117.0,28.7 L119.8,29.7 L122.6,30.5 L125.5,31.3 L128.4,32.2" stroke-width="0.81" stroke-opacity="0.17"/><path d="M91.5,19.6 L94.5,19.9 L97.5,20.3 L100.5,20.6 L103.5,20.7 L106.5,20.9 L109.5,21.2 L112.4,21.7 L115.4,22.1 L118.4,22.5 L121.3,22.9 L124.3,23.4" stroke-width="1.15" stroke-opacity="0.20"/><path d="M7.8,13.9 L10.7,14.5 L13.6,15.2 L16.6,15.7 L19.5,16.1 L22.5,16.5" stroke-width="1.27" stroke-opacity="0.40"/><path d="M102.0,13.7 L104.8,14.6 L107.7,15.5 L110.6,16.4 L113.4,17.2 L116.3,18.1" stroke-width="0.94" stroke-opacity="0.30"/><path d="M1.5,24.6 L4.4,25.0 L7.4,25.5 L10.4,25.9 L13.3,26.3 L16.3,26.5 L19.3,26.7 L22.3,26.7 L25.3,26.9 L28.3,27.2 L31.3,27.6 L34.2,28.1 L37.2,28.6" stroke-width="0.92" stroke-opacity="0.30"/><path d="M55.5,29.7 L58.4,30.3 L61.3,31.0 L64.2,31.8 L67.1,32.6 L70.0,33.5 L72.8,34.5 L75.6,35.6 L78.3,36.8 L81.1,38.1 L83.7,39.4 L86.4,40.8" stroke-width="1.18" stroke-opacity="0.17"/><path d="M37.6,20.4 L40.5,21.0 L43.5,21.6 L46.4,22.1 L49.4,22.8 L52.3,23.5" stroke-width="0.87" stroke-opacity="0.31"/><path d="M62.7,21.6 L65.5,22.5 L68.3,23.5 L71.1,24.6 L73.9,25.9 L76.6,27.0 L79.4,28.1 L82.2,29.3 L84.9,30.4" stroke-width="0.92" stroke-opacity="0.16"/><path d="M21.5,18.8 L24.4,19.4 L27.4,20.0 L30.3,20.6 L33.2,21.4 L36.1,22.2" stroke-width="1.40" stroke-opacity="0.31"/><path d="M89.0,13.4 L92.0,14.0 L94.9,14.7 L97.8,15.3 L100.8,15.9 L103.7,16.4 L106.7,16.9 L109.6,17.4 L112.6,17.8 L115.6,18.3" stroke-width="0.94" stroke-opacity="0.28"/><path d="M65.8,18.6 L68.7,19.3 L71.6,19.9 L74.5,20.6 L77.5,21.3 L80.4,21.7 L83.4,22.1 L86.4,22.3" stroke-width="0.73" stroke-opacity="0.34"/><path d="M42.9,28.2 L45.9,28.7 L48.8,29.3 L51.7,29.8 L54.7,30.5 L57.6,31.1 L60.5,31.7 L63.4,32.5 L66.3,33.2 L69.3,33.9 L72.1,34.8 L75.0,35.7" stroke-width="0.97" stroke-opacity="0.39"/><path d="M89.8,22.9 L92.8,23.5 L95.7,24.1 L98.7,24.5 L101.7,24.9 L104.7,25.1" stroke-width="0.95" stroke-opacity="0.32"/><path d="M75.7,96.2 L77.9,95.0 L80.1,93.8 L82.4,92.7 L84.6,91.6 L87.0,90.7 L89.3,89.8" stroke-width="0.74" stroke-opacity="0.33"/><path d="M83.2,104.5 L85.4,103.3 L87.5,102.0 L89.7,100.8 L91.9,99.6 L94.0,98.4 L96.2,97.2" stroke-width="1.05" stroke-opacity="0.36"/><path d="M72.2,107.7 L74.5,106.6 L76.7,105.3 L78.8,104.0 L80.9,102.7 L83.0,101.3 L85.1,99.9 L87.1,98.5" stroke-width="0.92" stroke-opacity="0.32"/><path d="M69.5,102.8 L71.7,101.7 L73.9,100.5 L76.1,99.3 L78.2,98.0 L80.4,96.7 L82.5,95.4" stroke-width="1.10" stroke-opacity="0.32"/><path d="M70.0,104.9 L72.3,103.8 L74.5,102.6 L76.6,101.4 L78.8,100.1 L81.0,98.9 L83.2,97.7" stroke-width="0.99" stroke-opacity="0.60"/><path d="M73.5,100.8 L75.8,99.7 L78.0,98.6 L80.2,97.4 L82.4,96.2 L84.6,95.0 L86.8,93.8" stroke-width="0.65" stroke-opacity="0.47"/><path d="M76.2,103.0 L78.5,101.8 L80.6,100.6 L82.8,99.3 L84.9,98.0 L87.1,96.7" stroke-width="0.78" stroke-opacity="0.52"/><path d="M79.8,96.5 L82.0,95.3 L84.2,94.1 L86.4,92.9 L88.5,91.6" stroke-width="1.03" stroke-opacity="0.47"/><path d="M83.6,107.0 L85.8,105.8 L88.0,104.7 L90.2,103.5 L92.4,102.3 L94.6,101.0 L96.8,99.9 L99.0,98.8" stroke-width="0.75" stroke-opacity="0.41"/><path d="M74.2,97.8 L76.4,96.6 L78.5,95.3 L80.7,94.0 L82.9,92.8 L85.1,91.6" stroke-width="1.10" stroke-opacity="0.47"/><path d="M71.0,104.1 L73.2,102.9 L75.3,101.5 L77.4,100.2 L79.5,98.9 L81.6,97.5 L83.8,96.3 L86.0,95.1" stroke-width="1.08" stroke-opacity="0.32"/><path d="M77.3,104.6 L79.4,103.3 L81.6,102.1 L83.8,100.9 L86.0,99.7" stroke-width="0.98" stroke-opacity="0.34"/><path d="M80.7,102.4 L82.8,101.1 L85.0,99.9 L87.2,98.7 L89.5,97.6" stroke-width="0.84" stroke-opacity="0.40"/><path d="M84.5,102.8 L86.7,101.6 L88.9,100.4 L91.1,99.3 L93.4,98.3 L95.7,97.3" stroke-width="1.10" stroke-opacity="0.50"/><path d="M106.7,97.5 L109.0,96.5 L111.3,95.7 L113.7,94.9 L116.1,94.4 L118.6,94.3" stroke-width="0.80" stroke-opacity="0.31"/><path d="M18.3,91.7 L16.9,93.8 L15.9,96.1 L15.0,98.4 L14.4,100.8 L13.1,103.0" stroke-width="0.54" stroke-opacity="0.28"/><path d="M14.4,83.3 L16.0,85.2 L17.6,87.1 L19.2,89.0 L20.3,91.3 L21.9,93.2" stroke-width="0.58" stroke-opacity="0.25"/><path d="M27.2,46.2 L24.9,45.1 L22.5,44.5 L20.0,44.3 L17.5,44.5" stroke-width="1.03" stroke-opacity="0.28"/><path d="M68.5,98.5 L67.8,100.9 L66.5,103.1 L65.4,105.3 L64.2,107.5" stroke-width="1.17" stroke-opacity="0.32"/><path d="M27.6,29.5 L28.3,27.1 L28.9,24.6 L29.6,22.2 L30.0,19.8 L31.0,17.5" stroke-width="0.96" stroke-opacity="0.26"/><path d="M1.4,67.5 L2.4,65.3 L3.5,63.0 L4.2,60.6" stroke-width="0.61" stroke-opacity="0.28"/><path d="M32.4,103.2 L31.4,100.9 L30.1,98.8 L28.8,96.7 L27.1,94.8" stroke-width="1.04" stroke-opacity="0.20"/><path d="M102.7,101.2 L105.0,102.1 L107.2,103.3 L109.6,104.0 L112.0,104.6 L114.4,105.2" stroke-width="1.17" stroke-opacity="0.35"/><path d="M107.2,52.3 L104.8,53.0 L102.6,54.2 L100.2,55.0 L98.0,56.2 L95.8,57.3" stroke-width="0.87" stroke-opacity="0.24"/><path d="M104.0,53.0 L106.3,53.9 L108.7,54.7 L110.9,55.9" stroke-width="0.75" stroke-opacity="0.37"/><path d="M13.2,60.5 L15.7,60.5 L18.2,60.7 L20.7,60.1 L23.1,59.4" stroke-width="1.00" stroke-opacity="0.26"/><path d="M70.5,66.2 L73.0,66.5 L75.5,66.4" stroke-width="0.93" stroke-opacity="0.27"/><path d="M47.0,73.6 L45.8,75.8 L44.5,77.9 L43.4,80.1" stroke-width="0.64" stroke-opacity="0.38"/><path d="M41.2,110.1 L40.5,107.6 L40.3,105.1 L39.6,102.8 L38.3,100.6" stroke-width="0.57" stroke-opacity="0.37"/><path d="M88.5,41.2 L90.0,39.1 L90.8,36.8 L91.3,34.3" stroke-width="0.61" stroke-opacity="0.23"/><path d="M50.9,31.5 L48.6,32.6 L46.3,33.5 L43.8,34.0 L41.3,34.1 L38.8,34.2" stroke-width="0.73" stroke-opacity="0.30"/><path d="M1.9,61.1 L4.4,61.2 L6.9,61.6 L9.3,62.2 L11.8,62.0" stroke-width="0.73" stroke-opacity="0.29"/><path d="M81.3,34.6 L78.9,34.0 L76.6,33.0 L74.4,31.8" stroke-width="0.61" stroke-opacity="0.39"/><path d="M112.9,74.3 L110.4,74.9 L107.9,75.1 L105.5,74.6" stroke-width="0.86" stroke-opacity="0.38"/><path d="M104.4,42.7 L102.4,41.3 L100.1,40.4 L97.6,39.9 L95.2,39.2 L92.9,38.3" stroke-width="0.73" stroke-opacity="0.43"/><path d="M45.1,66.7 L47.5,65.7 L49.9,65.4" stroke-width="0.88" stroke-opacity="0.34"/><path d="M70.0,48.8 L72.5,49.1 L75.0,49.6 L77.5,49.6 L79.9,50.0 L82.4,50.1" stroke-width="1.13" stroke-opacity="0.26"/><path d="M71.7,99.8 L69.2,99.7 L66.8,100.2 L64.5,101.3" stroke-width="1.19" stroke-opacity="0.43"/><path d="M82.3,52.7 L81.9,50.2 L81.7,47.7 L81.9,45.2 L81.4,42.8" stroke-width="0.64" stroke-opacity="0.32"/><path d="M17.9,59.8 L19.0,62.0 L20.4,64.1 L21.8,66.2 L23.3,68.1" stroke-width="0.95" stroke-opacity="0.21"/><path d="M83.9,38.0 L81.8,36.6 L79.7,35.3 L77.7,33.8 L75.9,32.1 L74.3,30.1" stroke-width="1.03" stroke-opacity="0.32"/><path d="M124.3,100.4 L122.3,101.9 L120.2,103.2 L117.8,104.0 L115.4,104.8 L113.0,105.5" stroke-width="0.80" stroke-opacity="0.43"/><path d="M40.1,29.9 L42.3,28.7 L44.6,27.7 L47.0,27.0 L49.3,26.1 L51.6,25.2" stroke-width="0.55" stroke-opacity="0.23"/><path d="M55.9,70.2 L58.1,71.3 L60.4,72.4 L62.8,73.2" stroke-width="0.71" stroke-opacity="0.30"/><path d="M29.5,31.2 L32.0,30.9 L34.5,31.2 L36.9,31.3 L39.4,31.9 L41.9,32.1" stroke-width="1.02" stroke-opacity="0.34"/><path d="M112.9,33.9 L114.7,35.7 L115.9,37.9 L117.7,39.6 L119.7,41.0 L121.9,42.2" stroke-width="0.73" stroke-opacity="0.22"/><path d="M111.9,98.4 L110.2,100.3 L109.2,102.5 L108.7,105.0" stroke-width="1.13" stroke-opacity="0.28"/><path d="M62.3,109.1 L60.0,109.9 L57.7,111.0 L55.3,111.6 L52.8,111.5 L50.3,111.9" stroke-width="1.09" stroke-opacity="0.29"/><path d="M59.1,40.5 L61.5,40.0 L64.0,39.6 L66.4,38.9 L68.9,38.7 L71.2,37.8" stroke-width="0.57" stroke-opacity="0.38"/><path d="M39.1,106.0 L38.0,103.8 L37.2,101.4 L37.0,98.9 L36.8,96.4 L35.9,94.1" stroke-width="0.66" stroke-opacity="0.28"/><path d="M88.8,42.7 L88.8,45.2 L88.3,47.6 L88.1,50.1" stroke-width="0.96" stroke-opacity="0.42"/><path d="M73.7,45.6 L76.1,44.7 L78.3,43.5 L80.6,42.5" stroke-width="0.56" stroke-opacity="0.45"/><path d="M55.0,72.5 L57.4,73.4 L59.8,73.9 L62.3,74.1 L64.8,74.7" stroke-width="0.56" stroke-opacity="0.27"/><path d="M94.5,47.1 L92.0,46.8 L89.6,46.0 L87.6,44.5" stroke-width="0.52" stroke-opacity="0.32"/><path d="M93.8,59.6 L91.4,60.1 L88.9,60.5 L86.4,60.7 L83.9,61.1 L81.4,61.2" stroke-width="1.05" stroke-opacity="0.33"/><path d="M63.2,101.1 L60.9,100.1 L58.5,99.6 L56.1,98.7 L53.7,98.3" stroke-width="0.93" stroke-opacity="0.26"/><path d="M55.1,94.6 L55.3,92.1 L55.5,89.6 L55.4,87.1 L55.3,84.6 L55.2,82.1" stroke-width="0.52" stroke-opacity="0.35"/><path d="M89.3,76.5 L90.8,78.5 L92.9,80.0 L94.9,81.5 L97.0,82.9 L99.1,84.2" stroke-width="0.68" stroke-opacity="0.40"/><path d="M9.1,106.7 L6.8,105.6 L4.4,104.9 L1.9,104.7 L-0.6,104.8" stroke-width="0.53" stroke-opacity="0.28"/><path d="M77.6,72.3 L75.3,71.5 L73.1,70.3 L70.7,69.6" stroke-width="0.68" stroke-opacity="0.24"/><path d="M86.3,99.8 L88.7,100.6 L91.1,101.2 L93.6,101.4 L96.0,102.3 L98.4,102.5" stroke-width="0.84" stroke-opacity="0.39"/><path d="M123.3,38.0 L122.5,35.6 L121.4,33.4 L120.8,31.0 L119.8,28.7" stroke-width="0.78" stroke-opacity="0.27"/><path d="M53.1,31.9 L55.5,32.2 L57.9,32.9" stroke-width="0.66" stroke-opacity="0.26"/><path d="M69.0,46.8 L71.2,45.5 L73.2,44.1 L75.6,43.3 L78.0,42.7" stroke-width="0.53" stroke-opacity="0.30"/></g></g><rect width="125" height="125" filter="url(#gB)"/></g><text x="4.2" y="11.4" font-size="11.5" font-weight="bold" style='font-family:"Liberation Serif", serif' fill="#fff">b</text><rect x="4.5" y="119.8" width="20.1" height="1.6" fill="#111"/><text x="4.5" y="118.2" font-size="6.8" style='font-family:"Liberation Sans", sans-serif' fill="#333">50</text><text x="16.3" y="118.2" font-size="6.5" style='font-family:"Liberation Sans", sans-serif' fill="#333" textLength="8.3" lengthAdjust="spacingAndGlyphs">nm</text></g>
<rect x="340.4" y="205.3" width="352.40" height="269.10" fill="none" stroke="#2b2b2b" stroke-width="1.3"/>
<path d="M334.9,462.20 H340.4 M337.4,436.51 H340.4 M334.9,410.82 H340.4 M337.4,385.13 H340.4 M334.9,359.44 H340.4 M337.4,333.75 H340.4 M334.9,308.06 H340.4 M337.4,282.37 H340.4 M334.9,256.68 H340.4 M337.4,230.99 H340.4 M334.9,205.30 H340.4 M340.40,474.4 V479.9 M365.57,474.4 V477.4 M390.74,474.4 V479.9 M415.91,474.4 V477.4 M441.09,474.4 V479.9 M466.26,474.4 V477.4 M491.43,474.4 V479.9 M516.60,474.4 V477.4 M541.77,474.4 V479.9 M566.94,474.4 V477.4 M592.11,474.4 V479.9 M617.29,474.4 V477.4 M642.46,474.4 V479.9 M667.63,474.4 V477.4 M692.80,474.4 V479.9 " stroke="#2b2b2b" stroke-width="1.2" fill="none"/>
<text x="332.2" y="467.80" text-anchor="end" font-size="16.5" fill="#000">0.0</text>
<text x="332.2" y="416.42" text-anchor="end" font-size="16.5" fill="#000">0.2</text>
<text x="332.2" y="365.04" text-anchor="end" font-size="16.5" fill="#000">0.4</text>
<text x="332.2" y="313.66" text-anchor="end" font-size="16.5" fill="#000">0.6</text>
<text x="332.2" y="262.28" text-anchor="end" font-size="16.5" fill="#000">0.8</text>
<text x="332.2" y="210.90" text-anchor="end" font-size="16.5" fill="#000">1.0</text>
<text x="340.40" y="497.2" text-anchor="middle" font-size="16.5" fill="#000">0</text>
<text x="390.74" y="497.2" text-anchor="middle" font-size="16.5" fill="#000">120</text>
<text x="441.09" y="497.2" text-anchor="middle" font-size="16.5" fill="#000">240</text>
<text x="491.43" y="497.2" text-anchor="middle" font-size="16.5" fill="#000">360</text>
<text x="541.77" y="497.2" text-anchor="middle" font-size="16.5" fill="#000">480</text>
<text x="592.11" y="497.2" text-anchor="middle" font-size="16.5" fill="#000">600</text>
<text x="642.46" y="497.2" text-anchor="middle" font-size="16.5" fill="#000">720</text>
<text x="692.80" y="497.2" text-anchor="middle" font-size="16.5" fill="#000">840</text>
<text x="516.8" y="524.5" text-anchor="middle" font-size="16.3" fill="#000">Time on stream /min</text>
<text transform="translate(296.8,339.5) rotate(-90)" text-anchor="middle" font-size="16.5" fill="#000">NF<tspan font-size="11" dy="4">3</tspan><tspan dy="-4"> breakthrough concentration (C/C</tspan><tspan font-size="11" dy="4">0</tspan><tspan dy="-4">)</tspan></text>
<clipPath id="plotclip"><rect x="340.4" y="205.3" width="352.40" height="269.10"/></clipPath>
<g clip-path="url(#plotclip)"><polyline points="348.79,462.20 357.18,462.20 365.57,462.20 373.96,462.20 382.35,462.20 390.74,462.20 399.13,462.20 407.52,462.20 415.91,462.20 424.30,462.20 432.70,462.20 441.09,462.20 449.48,462.20 457.87,462.20 466.26,462.20 474.65,462.20 483.04,462.20 491.43,462.20 499.82,462.20 508.21,462.20 516.60,462.20 524.99,462.20 533.38,462.20 541.77,462.20 550.16,462.20 558.55,462.20 566.94,462.20 575.33,462.20 583.72,458.86 592.11,455.26 600.50,448.33 608.90,437.79 617.29,425.46 625.68,413.39 634.07,395.41 642.46,378.19 650.85,355.07 659.24,328.61 667.63,304.46 676.02,290.85 684.41,281.86 692.80,272.61" fill="none" stroke="#808080" stroke-width="0.8"/><rect x="346.31" y="459.72" width="4.96" height="4.96" fill="#000000"/><rect x="354.70" y="459.72" width="4.96" height="4.96" fill="#000000"/><rect x="363.09" y="459.72" width="4.96" height="4.96" fill="#000000"/><rect x="371.48" y="459.72" width="4.96" height="4.96" fill="#000000"/><rect x="379.87" y="459.72" width="4.96" height="4.96" fill="#000000"/><rect x="388.26" y="459.72" width="4.96" height="4.96" fill="#000000"/><rect x="396.65" y="459.72" width="4.96" height="4.96" fill="#000000"/><rect x="405.04" y="459.72" width="4.96" height="4.96" fill="#000000"/><rect x="413.43" y="459.72" width="4.96" height="4.96" fill="#000000"/><rect x="421.82" y="459.72" width="4.96" height="4.96" fill="#000000"/><rect x="430.22" y="459.72" width="4.96" height="4.96" fill="#000000"/><rect x="438.61" y="459.72" width="4.96" height="4.96" fill="#000000"/><rect x="447.00" y="459.72" width="4.96" height="4.96" fill="#000000"/><rect x="455.39" y="459.72" width="4.96" height="4.96" fill="#000000"/><rect x="463.78" y="459.72" width="4.96" height="4.96" fill="#000000"/><rect x="472.17" y="459.72" width="4.96" height="4.96" fill="#000000"/><rect x="480.56" y="459.72" width="4.96" height="4.96" fill="#000000"/><rect x="488.95" y="459.72" width="4.96" height="4.96" fill="#000000"/><rect x="497.34" y="459.72" width="4.96" height="4.96" fill="#000000"/><rect x="505.73" y="459.72" width="4.96" height="4.96" fill="#000000"/><rect x="514.12" y="459.72" width="4.96" height="4.96" fill="#000000"/><rect x="522.51" y="459.72" width="4.96" height="4.96" fill="#000000"/><rect x="530.90" y="459.72" width="4.96" height="4.96" fill="#000000"/><rect x="539.29" y="459.72" width="4.96" height="4.96" fill="#000000"/><rect x="547.68" y="459.72" width="4.96" height="4.96" fill="#000000"/><rect x="556.07" y="459.72" width="4.96" height="4.96" fill="#000000"/><rect x="564.46" y="459.72" width="4.96" height="4.96" fill="#000000"/><rect x="572.85" y="459.72" width="4.96" height="4.96" fill="#000000"/><rect x="581.24" y="456.38" width="4.96" height="4.96" fill="#000000"/><rect x="589.63" y="452.78" width="4.96" height="4.96" fill="#000000"/><rect x="598.02" y="445.85" width="4.96" height="4.96" fill="#000000"/><rect x="606.42" y="435.31" width="4.96" height="4.96" fill="#000000"/><rect x="614.81" y="422.98" width="4.96" height="4.96" fill="#000000"/><rect x="623.20" y="410.91" width="4.96" height="4.96" fill="#000000"/><rect x="631.59" y="392.93" width="4.96" height="4.96" fill="#000000"/><rect x="639.98" y="375.71" width="4.96" height="4.96" fill="#000000"/><rect x="648.37" y="352.59" width="4.96" height="4.96" fill="#000000"/><rect x="656.76" y="326.13" width="4.96" height="4.96" fill="#000000"/><rect x="665.15" y="301.98" width="4.96" height="4.96" fill="#000000"/><rect x="673.54" y="288.37" width="4.96" height="4.96" fill="#000000"/><rect x="681.93" y="279.38" width="4.96" height="4.96" fill="#000000"/><rect x="690.32" y="270.13" width="4.96" height="4.96" fill="#000000"/><polyline points="348.79,462.20 357.18,462.20 365.57,462.20 373.96,462.20 382.35,462.20 390.74,462.20 399.13,462.20 407.52,462.20 415.91,462.20 424.30,462.20 432.70,462.20 441.09,462.20 449.48,462.20 457.87,462.20 466.26,462.20 474.65,462.20 483.04,462.20 491.43,462.20 499.82,462.20 508.21,462.20 516.60,462.20 524.99,462.20 533.38,462.20 541.77,462.20 550.16,462.20 558.55,462.20 566.94,462.20 575.33,462.20 583.72,462.20 592.11,462.20 600.50,461.43 608.90,457.32 617.29,452.44 625.68,445.76 634.07,432.91 642.46,418.53 650.85,396.95 659.24,372.54 667.63,353.27 676.02,337.09 684.41,325.27 692.80,314.23" fill="none" stroke="#FF9090" stroke-width="0.8"/><circle cx="348.79" cy="462.20" r="2.89" fill="#FF0000"/><circle cx="357.18" cy="462.20" r="2.89" fill="#FF0000"/><circle cx="365.57" cy="462.20" r="2.89" fill="#FF0000"/><circle cx="373.96" cy="462.20" r="2.89" fill="#FF0000"/><circle cx="382.35" cy="462.20" r="2.89" fill="#FF0000"/><circle cx="390.74" cy="462.20" r="2.89" fill="#FF0000"/><circle cx="399.13" cy="462.20" r="2.89" fill="#FF0000"/><circle cx="407.52" cy="462.20" r="2.89" fill="#FF0000"/><circle cx="415.91" cy="462.20" r="2.89" fill="#FF0000"/><circle cx="424.30" cy="462.20" r="2.89" fill="#FF0000"/><circle cx="432.70" cy="462.20" r="2.89" fill="#FF0000"/><circle cx="441.09" cy="462.20" r="2.89" fill="#FF0000"/><circle cx="449.48" cy="462.20" r="2.89" fill="#FF0000"/><circle cx="457.87" cy="462.20" r="2.89" fill="#FF0000"/><circle cx="466.26" cy="462.20" r="2.89" fill="#FF0000"/><circle cx="474.65" cy="462.20" r="2.89" fill="#FF0000"/><circle cx="483.04" cy="462.20" r="2.89" fill="#FF0000"/><circle cx="491.43" cy="462.20" r="2.89" fill="#FF0000"/><circle cx="499.82" cy="462.20" r="2.89" fill="#FF0000"/><circle cx="508.21" cy="462.20" r="2.89" fill="#FF0000"/><circle cx="516.60" cy="462.20" r="2.89" fill="#FF0000"/><circle cx="524.99" cy="462.20" r="2.89" fill="#FF0000"/><circle cx="533.38" cy="462.20" r="2.89" fill="#FF0000"/><circle cx="541.77" cy="462.20" r="2.89" fill="#FF0000"/><circle cx="550.16" cy="462.20" r="2.89" fill="#FF0000"/><circle cx="558.55" cy="462.20" r="2.89" fill="#FF0000"/><circle cx="566.94" cy="462.20" r="2.89" fill="#FF0000"/><circle cx="575.33" cy="462.20" r="2.89" fill="#FF0000"/><circle cx="583.72" cy="462.20" r="2.89" fill="#FF0000"/><circle cx="592.11" cy="462.20" r="2.89" fill="#FF0000"/><circle cx="600.50" cy="461.43" r="2.89" fill="#FF0000"/><circle cx="608.90" cy="457.32" r="2.89" fill="#FF0000"/><circle cx="617.29" cy="452.44" r="2.89" fill="#FF0000"/><circle cx="625.68" cy="445.76" r="2.89" fill="#FF0000"/><circle cx="634.07" cy="432.91" r="2.89" fill="#FF0000"/><circle cx="642.46" cy="418.53" r="2.89" fill="#FF0000"/><circle cx="650.85" cy="396.95" r="2.89" fill="#FF0000"/><circle cx="659.24" cy="372.54" r="2.89" fill="#FF0000"/><circle cx="667.63" cy="353.27" r="2.89" fill="#FF0000"/><circle cx="676.02" cy="337.09" r="2.89" fill="#FF0000"/><circle cx="684.41" cy="325.27" r="2.89" fill="#FF0000"/><circle cx="692.80" cy="314.23" r="2.89" fill="#FF0000"/><polyline points="348.79,462.20 357.18,462.20 365.57,462.20 373.96,462.20 382.35,462.20 390.74,462.20 399.13,462.20 407.52,462.20 415.91,462.20 424.30,462.20 432.70,462.20 441.09,462.20 449.48,462.20 457.87,462.20 466.26,462.20 474.65,462.20 483.04,462.20 491.43,462.20 499.82,462.20 508.21,462.20 516.60,462.20 524.99,462.20 533.38,462.20 541.77,462.20 550.16,462.20 558.55,462.20 566.94,462.20 575.33,462.20 583.72,462.20 592.11,462.20 600.50,462.20 608.90,459.12 617.29,457.06 625.68,450.64 634.07,437.02 642.46,424.69 650.85,395.41 659.24,362.01 667.63,347.88 676.02,325.79 684.41,311.40 692.80,300.35" fill="none" stroke="#80FF80" stroke-width="0.8"/><polygon points="348.79,458.71 352.28,464.81 345.31,464.81" fill="#00FF00"/><polygon points="357.18,458.71 360.67,464.81 353.70,464.81" fill="#00FF00"/><polygon points="365.57,458.71 369.06,464.81 362.09,464.81" fill="#00FF00"/><polygon points="373.96,458.71 377.45,464.81 370.48,464.81" fill="#00FF00"/><polygon points="382.35,458.71 385.84,464.81 378.87,464.81" fill="#00FF00"/><polygon points="390.74,458.71 394.23,464.81 387.26,464.81" fill="#00FF00"/><polygon points="399.13,458.71 402.62,464.81 395.65,464.81" fill="#00FF00"/><polygon points="407.52,458.71 411.01,464.81 404.04,464.81" fill="#00FF00"/><polygon points="415.91,458.71 419.40,464.81 412.43,464.81" fill="#00FF00"/><polygon points="424.30,458.71 427.79,464.81 420.82,464.81" fill="#00FF00"/><polygon points="432.70,458.71 436.18,464.81 429.21,464.81" fill="#00FF00"/><polygon points="441.09,458.71 444.57,464.81 437.60,464.81" fill="#00FF00"/><polygon points="449.48,458.71 452.96,464.81 445.99,464.81" fill="#00FF00"/><polygon points="457.87,458.71 461.35,464.81 454.38,464.81" fill="#00FF00"/><polygon points="466.26,458.71 469.74,464.81 462.77,464.81" fill="#00FF00"/><polygon points="474.65,458.71 478.13,464.81 471.16,464.81" fill="#00FF00"/><polygon points="483.04,458.71 486.52,464.81 479.55,464.81" fill="#00FF00"/><polygon points="491.43,458.71 494.91,464.81 487.94,464.81" fill="#00FF00"/><polygon points="499.82,458.71 503.30,464.81 496.33,464.81" fill="#00FF00"/><polygon points="508.21,458.71 511.69,464.81 504.72,464.81" fill="#00FF00"/><polygon points="516.60,458.71 520.08,464.81 513.11,464.81" fill="#00FF00"/><polygon points="524.99,458.71 528.48,464.81 521.51,464.81" fill="#00FF00"/><polygon points="533.38,458.71 536.87,464.81 529.90,464.81" fill="#00FF00"/><polygon points="541.77,458.71 545.26,464.81 538.29,464.81" fill="#00FF00"/><polygon points="550.16,458.71 553.65,464.81 546.68,464.81" fill="#00FF00"/><polygon points="558.55,458.71 562.04,464.81 555.07,464.81" fill="#00FF00"/><polygon points="566.94,458.71 570.43,464.81 563.46,464.81" fill="#00FF00"/><polygon points="575.33,458.71 578.82,464.81 571.85,464.81" fill="#00FF00"/><polygon points="583.72,458.71 587.21,464.81 580.24,464.81" fill="#00FF00"/><polygon points="592.11,458.71 595.60,464.81 588.63,464.81" fill="#00FF00"/><polygon points="600.50,458.71 603.99,464.81 597.02,464.81" fill="#00FF00"/><polygon points="608.90,455.63 612.38,461.73 605.41,461.73" fill="#00FF00"/><polygon points="617.29,453.58 620.77,459.68 613.80,459.68" fill="#00FF00"/><polygon points="625.68,447.15 629.16,453.25 622.19,453.25" fill="#00FF00"/><polygon points="634.07,433.54 637.55,439.64 630.58,439.64" fill="#00FF00"/><polygon points="642.46,421.21 645.94,427.31 638.97,427.31" fill="#00FF00"/><polygon points="650.85,391.92 654.33,398.02 647.36,398.02" fill="#00FF00"/><polygon points="659.24,358.52 662.72,364.62 655.75,364.62" fill="#00FF00"/><polygon points="667.63,344.39 671.11,350.49 664.14,350.49" fill="#00FF00"/><polygon points="676.02,322.30 679.50,328.40 672.53,328.40" fill="#00FF00"/><polygon points="684.41,307.91 687.89,314.01 680.92,314.01" fill="#00FF00"/><polygon points="692.80,296.87 696.28,302.97 689.31,302.97" fill="#00FF00"/><polyline points="348.79,462.20 357.18,462.20 365.57,462.20 373.96,462.20 382.35,462.20 390.74,462.20 399.13,462.20 407.52,462.20 415.91,462.20 424.30,462.20 432.70,462.20 441.09,462.20 449.48,462.20 457.87,462.20 466.26,462.20 474.65,462.20 483.04,462.20 491.43,462.20 499.82,462.20 508.21,462.20 516.60,462.20 524.99,462.20 533.38,462.20 541.77,462.20 550.16,462.20 558.55,462.20 566.94,462.20 575.33,462.20 583.72,462.20 592.11,462.20 600.50,462.20 608.90,462.20 617.29,462.20 625.68,462.20 634.07,462.20 642.46,457.58 650.85,444.73 659.24,430.34 667.63,414.42 676.02,384.36 684.41,347.88 692.80,316.28" fill="none" stroke="#8080FF" stroke-width="0.8"/><polygon points="348.79,465.69 352.28,459.59 345.31,459.59" fill="#0000FF"/><polygon points="357.18,465.69 360.67,459.59 353.70,459.59" fill="#0000FF"/><polygon points="365.57,465.69 369.06,459.59 362.09,459.59" fill="#0000FF"/><polygon points="373.96,465.69 377.45,459.59 370.48,459.59" fill="#0000FF"/><polygon points="382.35,465.69 385.84,459.59 378.87,459.59" fill="#0000FF"/><polygon points="390.74,465.69 394.23,459.59 387.26,459.59" fill="#0000FF"/><polygon points="399.13,465.69 402.62,459.59 395.65,459.59" fill="#0000FF"/><polygon points="407.52,465.69 411.01,459.59 404.04,459.59" fill="#0000FF"/><polygon points="415.91,465.69 419.40,459.59 412.43,459.59" fill="#0000FF"/><polygon points="424.30,465.69 427.79,459.59 420.82,459.59" fill="#0000FF"/><polygon points="432.70,465.69 436.18,459.59 429.21,459.59" fill="#0000FF"/><polygon points="441.09,465.69 444.57,459.59 437.60,459.59" fill="#0000FF"/><polygon points="449.48,465.69 452.96,459.59 445.99,459.59" fill="#0000FF"/><polygon points="457.87,465.69 461.35,459.59 454.38,459.59" fill="#0000FF"/><polygon points="466.26,465.69 469.74,459.59 462.77,459.59" fill="#0000FF"/><polygon points="474.65,465.69 478.13,459.59 471.16,459.59" fill="#0000FF"/><polygon points="483.04,465.69 486.52,459.59 479.55,459.59" fill="#0000FF"/><polygon points="491.43,465.69 494.91,459.59 487.94,459.59" fill="#0000FF"/><polygon points="499.82,465.69 503.30,459.59 496.33,459.59" fill="#0000FF"/><polygon points="508.21,465.69 511.69,459.59 504.72,459.59" fill="#0000FF"/><polygon points="516.60,465.69 520.08,459.59 513.11,459.59" fill="#0000FF"/><polygon points="524.99,465.69 528.48,459.59 521.51,459.59" fill="#0000FF"/><polygon points="533.38,465.69 536.87,459.59 529.90,459.59" fill="#0000FF"/><polygon points="541.77,465.69 545.26,459.59 538.29,459.59" fill="#0000FF"/><polygon points="550.16,465.69 553.65,459.59 546.68,459.59" fill="#0000FF"/><polygon points="558.55,465.69 562.04,459.59 555.07,459.59" fill="#0000FF"/><polygon points="566.94,465.69 570.43,459.59 563.46,459.59" fill="#0000FF"/><polygon points="575.33,465.69 578.82,459.59 571.85,459.59" fill="#0000FF"/><polygon points="583.72,465.69 587.21,459.59 580.24,459.59" fill="#0000FF"/><polygon points="592.11,465.69 595.60,459.59 588.63,459.59" fill="#0000FF"/><polygon points="600.50,465.69 603.99,459.59 597.02,459.59" fill="#0000FF"/><polygon points="608.90,465.69 612.38,459.59 605.41,459.59" fill="#0000FF"/><polygon points="617.29,465.69 620.77,459.59 613.80,459.59" fill="#0000FF"/><polygon points="625.68,465.69 629.16,459.59 622.19,459.59" fill="#0000FF"/><polygon points="634.07,465.69 637.55,459.59 630.58,459.59" fill="#0000FF"/><polygon points="642.46,461.06 645.94,454.96 638.97,454.96" fill="#0000FF"/><polygon points="650.85,448.22 654.33,442.12 647.36,442.12" fill="#0000FF"/><polygon points="659.24,433.83 662.72,427.73 655.75,427.73" fill="#0000FF"/><polygon points="667.63,417.90 671.11,411.80 664.14,411.80" fill="#0000FF"/><polygon points="676.02,387.84 679.50,381.75 672.53,381.75" fill="#0000FF"/><polygon points="684.41,351.36 687.89,345.27 680.92,345.27" fill="#0000FF"/><polygon points="692.80,319.77 696.28,313.67 689.31,313.67" fill="#0000FF"/><polyline points="348.79,462.20 357.18,462.20 365.57,462.20 373.96,462.20 382.35,462.20 390.74,462.20 399.13,462.20 407.52,462.20 415.91,462.20 424.30,462.20 432.70,462.20 441.09,462.20 449.48,462.20 457.87,462.20 466.26,462.20 474.65,462.20 483.04,462.20 491.43,462.20 499.82,462.20 508.21,462.20 516.60,462.20 524.99,462.20 533.38,462.20 541.77,462.20 550.16,462.20 558.55,462.20 566.94,462.20 575.33,462.20 583.72,462.20 592.11,462.20 600.50,462.20 608.90,462.20 617.29,462.20 625.68,462.20 634.07,462.20 642.46,458.86 650.85,448.84 659.24,422.89 667.63,379.48 676.02,344.80 684.41,322.19 692.80,309.34" fill="none" stroke="#80FFFF" stroke-width="0.8"/><polygon points="348.79,458.71 352.28,462.20 348.79,465.69 345.31,462.20" fill="#00FFFF"/><polygon points="357.18,458.71 360.67,462.20 357.18,465.69 353.70,462.20" fill="#00FFFF"/><polygon points="365.57,458.71 369.06,462.20 365.57,465.69 362.09,462.20" fill="#00FFFF"/><polygon points="373.96,458.71 377.45,462.20 373.96,465.69 370.48,462.20" fill="#00FFFF"/><polygon points="382.35,458.71 385.84,462.20 382.35,465.69 378.87,462.20" fill="#00FFFF"/><polygon points="390.74,458.71 394.23,462.20 390.74,465.69 387.26,462.20" fill="#00FFFF"/><polygon points="399.13,458.71 402.62,462.20 399.13,465.69 395.65,462.20" fill="#00FFFF"/><polygon points="407.52,458.71 411.01,462.20 407.52,465.69 404.04,462.20" fill="#00FFFF"/><polygon points="415.91,458.71 419.40,462.20 415.91,465.69 412.43,462.20" fill="#00FFFF"/><polygon points="424.30,458.71 427.79,462.20 424.30,465.69 420.82,462.20" fill="#00FFFF"/><polygon points="432.70,458.71 436.18,462.20 432.70,465.69 429.21,462.20" fill="#00FFFF"/><polygon points="441.09,458.71 444.57,462.20 441.09,465.69 437.60,462.20" fill="#00FFFF"/><polygon points="449.48,458.71 452.96,462.20 449.48,465.69 445.99,462.20" fill="#00FFFF"/><polygon points="457.87,458.71 461.35,462.20 457.87,465.69 454.38,462.20" fill="#00FFFF"/><polygon points="466.26,458.71 469.74,462.20 466.26,465.69 462.77,462.20" fill="#00FFFF"/><polygon points="474.65,458.71 478.13,462.20 474.65,465.69 471.16,462.20" fill="#00FFFF"/><polygon points="483.04,458.71 486.52,462.20 483.04,465.69 479.55,462.20" fill="#00FFFF"/><polygon points="491.43,458.71 494.91,462.20 491.43,465.69 487.94,462.20" fill="#00FFFF"/><polygon points="499.82,458.71 503.30,462.20 499.82,465.69 496.33,462.20" fill="#00FFFF"/><polygon points="508.21,458.71 511.69,462.20 508.21,465.69 504.72,462.20" fill="#00FFFF"/><polygon points="516.60,458.71 520.08,462.20 516.60,465.69 513.11,462.20" fill="#00FFFF"/><polygon points="524.99,458.71 528.48,462.20 524.99,465.69 521.51,462.20" fill="#00FFFF"/><polygon points="533.38,458.71 536.87,462.20 533.38,465.69 529.90,462.20" fill="#00FFFF"/><polygon points="541.77,458.71 545.26,462.20 541.77,465.69 538.29,462.20" fill="#00FFFF"/><polygon points="550.16,458.71 553.65,462.20 550.16,465.69 546.68,462.20" fill="#00FFFF"/><polygon points="558.55,458.71 562.04,462.20 558.55,465.69 555.07,462.20" fill="#00FFFF"/><polygon points="566.94,458.71 570.43,462.20 566.94,465.69 563.46,462.20" fill="#00FFFF"/><polygon points="575.33,458.71 578.82,462.20 575.33,465.69 571.85,462.20" fill="#00FFFF"/><polygon points="583.72,458.71 587.21,462.20 583.72,465.69 580.24,462.20" fill="#00FFFF"/><polygon points="592.11,458.71 595.60,462.20 592.11,465.69 588.63,462.20" fill="#00FFFF"/><polygon points="600.50,458.71 603.99,462.20 600.50,465.69 597.02,462.20" fill="#00FFFF"/><polygon points="608.90,458.71 612.38,462.20 608.90,465.69 605.41,462.20" fill="#00FFFF"/><polygon points="617.29,458.71 620.77,462.20 617.29,465.69 613.80,462.20" fill="#00FFFF"/><polygon points="625.68,458.71 629.16,462.20 625.68,465.69 622.19,462.20" fill="#00FFFF"/><polygon points="634.07,458.71 637.55,462.20 634.07,465.69 630.58,462.20" fill="#00FFFF"/><polygon points="642.46,455.38 645.94,458.86 642.46,462.35 638.97,458.86" fill="#00FFFF"/><polygon points="650.85,445.36 654.33,448.84 650.85,452.33 647.36,448.84" fill="#00FFFF"/><polygon points="659.24,419.41 662.72,422.89 659.24,426.38 655.75,422.89" fill="#00FFFF"/><polygon points="667.63,375.99 671.11,379.48 667.63,382.96 664.14,379.48" fill="#00FFFF"/><polygon points="676.02,341.31 679.50,344.80 676.02,348.28 672.53,344.80" fill="#00FFFF"/><polygon points="684.41,318.70 687.89,322.19 684.41,325.67 680.92,322.19" fill="#00FFFF"/><polygon points="692.80,305.86 696.28,309.34 692.80,312.83 689.31,309.34" fill="#00FFFF"/><polyline points="348.79,462.20 357.18,462.20 365.57,462.20 373.96,462.20 382.35,462.20 390.74,462.20 399.13,462.20 407.52,462.20 415.91,462.20 424.30,462.20 432.70,462.20 441.09,462.20 449.48,462.20 457.87,462.20 466.26,462.20 474.65,462.20 483.04,462.20 491.43,462.20 499.82,462.20 508.21,462.20 516.60,462.20 524.99,462.20 533.38,462.20 541.77,462.20 550.16,462.20 558.55,462.20 566.94,462.20 575.33,462.20 583.72,462.20 592.11,462.20 600.50,459.63 608.90,454.24 617.29,446.53 625.68,438.05 634.07,432.14 642.46,413.65 650.85,394.12 659.24,375.37 667.63,357.90 676.02,343.77 684.41,331.44 692.80,320.90" fill="none" stroke="#FF80FF" stroke-width="0.8"/><polygon points="345.31,462.20 351.40,458.71 351.40,465.69" fill="#FF00FF"/><polygon points="353.70,462.20 359.79,458.71 359.79,465.69" fill="#FF00FF"/><polygon points="362.09,462.20 368.19,458.71 368.19,465.69" fill="#FF00FF"/><polygon points="370.48,462.20 376.58,458.71 376.58,465.69" fill="#FF00FF"/><polygon points="378.87,462.20 384.97,458.71 384.97,465.69" fill="#FF00FF"/><polygon points="387.26,462.20 393.36,458.71 393.36,465.69" fill="#FF00FF"/><polygon points="395.65,462.20 401.75,458.71 401.75,465.69" fill="#FF00FF"/><polygon points="404.04,462.20 410.14,458.71 410.14,465.69" fill="#FF00FF"/><polygon points="412.43,462.20 418.53,458.71 418.53,465.69" fill="#FF00FF"/><polygon points="420.82,462.20 426.92,458.71 426.92,465.69" fill="#FF00FF"/><polygon points="429.21,462.20 435.31,458.71 435.31,465.69" fill="#FF00FF"/><polygon points="437.60,462.20 443.70,458.71 443.70,465.69" fill="#FF00FF"/><polygon points="445.99,462.20 452.09,458.71 452.09,465.69" fill="#FF00FF"/><polygon points="454.38,462.20 460.48,458.71 460.48,465.69" fill="#FF00FF"/><polygon points="462.77,462.20 468.87,458.71 468.87,465.69" fill="#FF00FF"/><polygon points="471.16,462.20 477.26,458.71 477.26,465.69" fill="#FF00FF"/><polygon points="479.55,462.20 485.65,458.71 485.65,465.69" fill="#FF00FF"/><polygon points="487.94,462.20 494.04,458.71 494.04,465.69" fill="#FF00FF"/><polygon points="496.33,462.20 502.43,458.71 502.43,465.69" fill="#FF00FF"/><polygon points="504.72,462.20 510.82,458.71 510.82,465.69" fill="#FF00FF"/><polygon points="513.11,462.20 519.21,458.71 519.21,465.69" fill="#FF00FF"/><polygon points="521.51,462.20 527.60,458.71 527.60,465.69" fill="#FF00FF"/><polygon points="529.90,462.20 535.99,458.71 535.99,465.69" fill="#FF00FF"/><polygon points="538.29,462.20 544.39,458.71 544.39,465.69" fill="#FF00FF"/><polygon points="546.68,462.20 552.78,458.71 552.78,465.69" fill="#FF00FF"/><polygon points="555.07,462.20 561.17,458.71 561.17,465.69" fill="#FF00FF"/><polygon points="563.46,462.20 569.56,458.71 569.56,465.69" fill="#FF00FF"/><polygon points="571.85,462.20 577.95,458.71 577.95,465.69" fill="#FF00FF"/><polygon points="580.24,462.20 586.34,458.71 586.34,465.69" fill="#FF00FF"/><polygon points="588.63,462.20 594.73,458.71 594.73,465.69" fill="#FF00FF"/><polygon points="597.02,459.63 603.12,456.15 603.12,463.12" fill="#FF00FF"/><polygon points="605.41,454.24 611.51,450.75 611.51,457.72" fill="#FF00FF"/><polygon points="613.80,446.53 619.90,443.04 619.90,450.01" fill="#FF00FF"/><polygon points="622.19,438.05 628.29,434.57 628.29,441.54" fill="#FF00FF"/><polygon points="630.58,432.14 636.68,428.66 636.68,435.63" fill="#FF00FF"/><polygon points="638.97,413.65 645.07,410.16 645.07,417.13" fill="#FF00FF"/><polygon points="647.36,394.12 653.46,390.64 653.46,397.61" fill="#FF00FF"/><polygon points="655.75,375.37 661.85,371.88 661.85,378.85" fill="#FF00FF"/><polygon points="664.14,357.90 670.24,354.41 670.24,361.38" fill="#FF00FF"/><polygon points="672.53,343.77 678.63,340.28 678.63,347.25" fill="#FF00FF"/><polygon points="680.92,331.44 687.02,327.95 687.02,334.92" fill="#FF00FF"/><polygon points="689.31,320.90 695.41,317.42 695.41,324.39" fill="#FF00FF"/><polyline points="348.79,462.20 357.18,462.20 365.57,462.20 373.96,462.20 382.35,462.20 390.74,462.20 399.13,462.20 407.52,462.20 415.91,462.20 424.30,462.20 432.70,462.20 441.09,462.20 449.48,462.20 457.87,462.20 466.26,462.20 474.65,462.20 483.04,462.20 491.43,462.20 499.82,462.20 508.21,462.20 516.60,462.20 524.99,462.20 533.38,462.20 541.77,462.20 550.16,462.20 558.55,462.20 566.94,462.20 575.33,462.20 583.72,460.66 592.11,459.12 600.50,455.78 608.90,449.87 617.29,440.11 625.68,429.06 634.07,409.02 642.46,372.28 650.85,344.28 659.24,330.41 667.63,319.62 676.02,307.55 684.41,302.41 692.80,296.76" fill="none" stroke="#FFFF80" stroke-width="0.8"/><polygon points="352.28,462.20 346.18,458.71 346.18,465.69" fill="#FFFF00"/><polygon points="360.67,462.20 354.57,458.71 354.57,465.69" fill="#FFFF00"/><polygon points="369.06,462.20 362.96,458.71 362.96,465.69" fill="#FFFF00"/><polygon points="377.45,462.20 371.35,458.71 371.35,465.69" fill="#FFFF00"/><polygon points="385.84,462.20 379.74,458.71 379.74,465.69" fill="#FFFF00"/><polygon points="394.23,462.20 388.13,458.71 388.13,465.69" fill="#FFFF00"/><polygon points="402.62,462.20 396.52,458.71 396.52,465.69" fill="#FFFF00"/><polygon points="411.01,462.20 404.91,458.71 404.91,465.69" fill="#FFFF00"/><polygon points="419.40,462.20 413.30,458.71 413.30,465.69" fill="#FFFF00"/><polygon points="427.79,462.20 421.69,458.71 421.69,465.69" fill="#FFFF00"/><polygon points="436.18,462.20 430.08,458.71 430.08,465.69" fill="#FFFF00"/><polygon points="444.57,462.20 438.47,458.71 438.47,465.69" fill="#FFFF00"/><polygon points="452.96,462.20 446.86,458.71 446.86,465.69" fill="#FFFF00"/><polygon points="461.35,462.20 455.25,458.71 455.25,465.69" fill="#FFFF00"/><polygon points="469.74,462.20 463.64,458.71 463.64,465.69" fill="#FFFF00"/><polygon points="478.13,462.20 472.03,458.71 472.03,465.69" fill="#FFFF00"/><polygon points="486.52,462.20 480.42,458.71 480.42,465.69" fill="#FFFF00"/><polygon points="494.91,462.20 488.81,458.71 488.81,465.69" fill="#FFFF00"/><polygon points="503.30,462.20 497.21,458.71 497.21,465.69" fill="#FFFF00"/><polygon points="511.69,462.20 505.60,458.71 505.60,465.69" fill="#FFFF00"/><polygon points="520.08,462.20 513.99,458.71 513.99,465.69" fill="#FFFF00"/><polygon points="528.48,462.20 522.38,458.71 522.38,465.69" fill="#FFFF00"/><polygon points="536.87,462.20 530.77,458.71 530.77,465.69" fill="#FFFF00"/><polygon points="545.26,462.20 539.16,458.71 539.16,465.69" fill="#FFFF00"/><polygon points="553.65,462.20 547.55,458.71 547.55,465.69" fill="#FFFF00"/><polygon points="562.04,462.20 555.94,458.71 555.94,465.69" fill="#FFFF00"/><polygon points="570.43,462.20 564.33,458.71 564.33,465.69" fill="#FFFF00"/><polygon points="578.82,462.20 572.72,458.71 572.72,465.69" fill="#FFFF00"/><polygon points="587.21,460.66 581.11,457.17 581.11,464.14" fill="#FFFF00"/><polygon points="595.60,459.12 589.50,455.63 589.50,462.60" fill="#FFFF00"/><polygon points="603.99,455.78 597.89,452.29 597.89,459.26" fill="#FFFF00"/><polygon points="612.38,449.87 606.28,446.38 606.28,453.35" fill="#FFFF00"/><polygon points="620.77,440.11 614.67,436.62 614.67,443.59" fill="#FFFF00"/><polygon points="629.16,429.06 623.06,425.57 623.06,432.54" fill="#FFFF00"/><polygon points="637.55,409.02 631.45,405.54 631.45,412.51" fill="#FFFF00"/><polygon points="645.94,372.28 639.84,368.80 639.84,375.77" fill="#FFFF00"/><polygon points="654.33,344.28 648.23,340.80 648.23,347.77" fill="#FFFF00"/><polygon points="662.72,330.41 656.62,326.93 656.62,333.90" fill="#FFFF00"/><polygon points="671.11,319.62 665.01,316.14 665.01,323.11" fill="#FFFF00"/><polygon points="679.50,307.55 673.41,304.06 673.41,311.03" fill="#FFFF00"/><polygon points="687.89,302.41 681.80,298.92 681.80,305.89" fill="#FFFF00"/><polygon points="696.28,296.76 690.19,293.27 690.19,300.24" fill="#FFFF00"/></g>
<path d="M346,320.80 H378.2" stroke="#bdbdbd" stroke-width="1.3"/>
<rect x="358.90" y="317.70" width="6.20" height="6.20" fill="#000000"/>
<text transform="translate(381.8,325.50) scale(0.95,1)" font-size="13.3" fill="#000">Al<tspan font-size="7.5" dy="5">2</tspan><tspan dy="-5">O</tspan><tspan font-size="7.5" dy="5">3</tspan></text>
<path d="M346,341.10 H378.2" stroke="#ffc0c0" stroke-width="1.3"/>
<circle cx="362.00" cy="341.10" r="3.70" fill="#FF0000"/>
<text transform="translate(381.8,345.80) scale(0.95,1)" font-size="13.3" fill="#000">Al<tspan font-size="7.5" dy="5">2</tspan><tspan dy="-5">O</tspan><tspan font-size="7.5" dy="5">3</tspan><tspan dy="-5">@Mn</tspan><tspan font-size="7.5" dy="5">2</tspan><tspan dy="-5">O</tspan><tspan font-size="7.5" dy="5">3</tspan><tspan dy="-5" dx="1.8">-120</tspan><tspan font-size="7.5" dy="-5" dx="1.0">o</tspan><tspan dy="5" dx="0.4">C</tspan></text>
<path d="M346,361.40 H378.2" stroke="#a0ffa0" stroke-width="1.3"/>
<polygon points="362.00,357.30 366.10,364.48 357.90,364.48" fill="#00FF00"/>
<text transform="translate(381.8,366.10) scale(0.95,1)" font-size="13.3" fill="#000">Al<tspan font-size="7.5" dy="5">2</tspan><tspan dy="-5">O</tspan><tspan font-size="7.5" dy="5">3</tspan><tspan dy="-5">@Mn</tspan><tspan font-size="7.5" dy="5">2</tspan><tspan dy="-5">O</tspan><tspan font-size="7.5" dy="5">3</tspan><tspan dy="-5" dx="1.8">-140</tspan><tspan font-size="7.5" dy="-5" dx="1.0">o</tspan><tspan dy="5" dx="0.4">C</tspan></text>
<path d="M346,381.70 H378.2" stroke="#a8a8ff" stroke-width="1.3"/>
<polygon points="362.00,385.80 366.10,378.63 357.90,378.63" fill="#0000FF"/>
<text transform="translate(381.8,386.40) scale(0.95,1)" font-size="13.3" fill="#000">Al<tspan font-size="7.5" dy="5">2</tspan><tspan dy="-5">O</tspan><tspan font-size="7.5" dy="5">3</tspan><tspan dy="-5">@Mn</tspan><tspan font-size="7.5" dy="5">2</tspan><tspan dy="-5">O</tspan><tspan font-size="7.5" dy="5">3</tspan><tspan dy="-5" dx="1.8">-150</tspan><tspan font-size="7.5" dy="-5" dx="1.0">o</tspan><tspan dy="5" dx="0.4">C</tspan></text>
<path d="M346,402.00 H378.2" stroke="#a0ffff" stroke-width="1.3"/>
<polygon points="362.00,397.90 366.10,402.00 362.00,406.10 357.90,402.00" fill="#00FFFF"/>
<text transform="translate(381.8,406.70) scale(0.95,1)" font-size="13.3" fill="#000">Al<tspan font-size="7.5" dy="5">2</tspan><tspan dy="-5">O</tspan><tspan font-size="7.5" dy="5">3</tspan><tspan dy="-5">@Mn</tspan><tspan font-size="7.5" dy="5">2</tspan><tspan dy="-5">O</tspan><tspan font-size="7.5" dy="5">3</tspan><tspan dy="-5" dx="1.8">-160</tspan><tspan font-size="7.5" dy="-5" dx="1.0">o</tspan><tspan dy="5" dx="0.4">C</tspan></text>
<path d="M346,422.30 H378.2" stroke="#ffa8ff" stroke-width="1.3"/>
<polygon points="357.90,422.30 365.07,418.20 365.07,426.40" fill="#FF00FF"/>
<text transform="translate(381.8,427.00) scale(0.95,1)" font-size="13.3" fill="#000">Al<tspan font-size="7.5" dy="5">2</tspan><tspan dy="-5">O</tspan><tspan font-size="7.5" dy="5">3</tspan><tspan dy="-5">@Mn</tspan><tspan font-size="7.5" dy="5">2</tspan><tspan dy="-5">O</tspan><tspan font-size="7.5" dy="5">3</tspan><tspan dy="-5" dx="1.8">-170</tspan><tspan font-size="7.5" dy="-5" dx="1.0">o</tspan><tspan dy="5" dx="0.4">C</tspan></text>
<path d="M346,442.60 H378.2" stroke="#ffffa0" stroke-width="1.3"/>
<polygon points="366.10,442.60 358.93,438.50 358.93,446.70" fill="#FFFF00"/>
<text transform="translate(381.8,447.30) scale(0.95,1)" font-size="13.3" fill="#000">Al<tspan font-size="7.5" dy="5">2</tspan><tspan dy="-5">O</tspan><tspan font-size="7.5" dy="5">3</tspan><tspan dy="-5">@Mn</tspan><tspan font-size="7.5" dy="5">2</tspan><tspan dy="-5">O</tspan><tspan font-size="7.5" dy="5">3</tspan><tspan dy="-5" dx="1.8">-180</tspan><tspan font-size="7.5" dy="-5" dx="1.0">o</tspan><tspan dy="5" dx="0.4">C</tspan></text>
</svg></body></html>
